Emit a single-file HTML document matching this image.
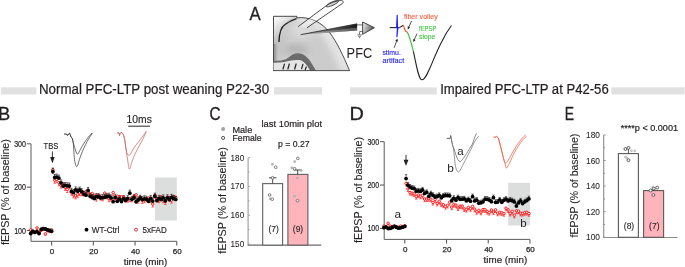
<!DOCTYPE html>
<html><head><meta charset="utf-8"><style>
html,body{margin:0;padding:0;background:#fff;overflow:hidden;}
svg{display:block;will-change:transform;}
svg text{font-family:"Liberation Sans", sans-serif;}
</style></head><body>
<svg width="685" height="267" viewBox="0 0 685 267">
<rect width="685" height="267" fill="#fff"/>
<text x="249.60" y="19.80" font-size="18.3" fill="#231f20" text-anchor="start" stroke="#231f20" stroke-width="0.3" textLength="11.2" lengthAdjust="spacingAndGlyphs" >A</text>
<defs>
<radialGradient id="gs" cx="0.62" cy="0.3" r="0.8">
 <stop offset="0" stop-color="#e4e4e4"/><stop offset="0.5" stop-color="#d2d2d2"/><stop offset="1" stop-color="#b8b8b8"/>
</radialGradient>
<linearGradient id="gl" x1="0" y1="0" x2="1" y2="0">
 <stop offset="0" stop-color="#8a8a8a"/><stop offset="0.18" stop-color="#bdbdbd" stop-opacity="0.4"/><stop offset="0.3" stop-color="#c4c4c4" stop-opacity="0"/>
</linearGradient>
<linearGradient id="gw" x1="0" y1="0" x2="1" y2="0.25">
 <stop offset="0" stop-color="#b8b8b8"/><stop offset="0.55" stop-color="#6e6e6e"/><stop offset="0.85" stop-color="#333"/><stop offset="1" stop-color="#151515"/>
</linearGradient>
<linearGradient id="gt" x1="0" y1="0" x2="1" y2="0.3">
 <stop offset="0" stop-color="#f4f4f4"/><stop offset="1" stop-color="#555555"/>
</linearGradient>
<linearGradient id="gtl" x1="0" y1="0" x2="0.6" y2="1">
 <stop offset="0" stop-color="#ffffff"/><stop offset="1" stop-color="#a8a8a8"/>
</linearGradient>
<linearGradient id="go" x1="0" y1="0" x2="1" y2="0">
 <stop offset="0" stop-color="#888"/><stop offset="1" stop-color="#222"/>
</linearGradient>
</defs>
<clipPath id="cs"><path d="M273.5,16.2 L297,16.2 L296.7,17.9 C309,16.2 322,22 330,33 C337,42.5 343,55 349.5,70.5 L273.5,70.5 Z"/></clipPath>
<filter id="bl3" x="-20%" y="-20%" width="140%" height="140%"><feGaussianBlur stdDeviation="3"/></filter>
<filter id="bl1" x="-20%" y="-20%" width="140%" height="140%"><feGaussianBlur stdDeviation="1.2"/></filter>
<g clip-path="url(#cs)">
<path d="M273.5,16.2 L297,16.2 L296.7,17.9 C309,16.2 322,22 330,33 C337,42.5 343,55 349.5,70.5 L273.5,70.5 Z" fill="#cccccc"/>
<ellipse cx="295" cy="49.5" rx="14" ry="5" fill="#b6b6b6" filter="url(#bl3)"/>
<ellipse cx="281" cy="46" rx="6" ry="12" fill="#c4c4c4" filter="url(#bl3)"/>
<path d="M296.7,17.9 C309,16.2 322,22 330,33 C337,42.5 343,55 349.5,70.5" fill="none" stroke="#e4e4e4" stroke-width="16" filter="url(#bl3)"/>
<ellipse cx="303" cy="30" rx="12" ry="8" fill="#dadada" filter="url(#bl3)"/>
<rect x="272" y="16" width="4.2" height="56" fill="#969696" filter="url(#bl1)"/>
<path d="M273.5,16.2 L297,16.2 C289,18.5 282.5,23 279.8,31 L278.8,42 L275.5,44 L273.5,44 Z" fill="url(#gtl)"/>
</g>
<path d="M279,42 C279.2,34 281,27 285,24.5 C288.5,22 292.5,19.8 296.5,18.6" fill="none" stroke="#1e1e1e" stroke-width="1.3"/>
<path d="M296.7,17.9 C309,16.2 322,22 330,33 C337,42.5 343,55 349.5,70.5" fill="none" stroke="#3a3a3a" stroke-width="0.9"/>
<path d="M273.5,70.5 L273.5,16.3 L297,16.3 L296.8,18.2" fill="none" stroke="#4a4a4a" stroke-width="1"/>
<path d="M273.5,62.5 C282,61.5 289,59 295,57.5 C301,57.5 306,63 310,70.5 L273.5,70.5 Z" fill="#e4e4e4"/>
<path d="M273.5,61.1 C274.53,61.02 277.68,60.92 279.7,60.6 C281.72,60.28 283.97,59.85 285.6,59.2 C287.23,58.55 288.20,57.52 289.5,56.7 C290.80,55.88 292.10,54.87 293.4,54.3 C294.70,53.73 296.00,53.38 297.3,53.3 C298.60,53.22 299.90,53.40 301.2,53.8 C302.50,54.20 303.80,54.73 305.1,55.7 C306.40,56.67 307.70,57.97 309,59.6 C310.30,61.23 311.77,63.68 312.9,65.5 C314.03,67.32 315.32,69.67 315.8,70.5 L310,70.5 C309.50,69.67 307.98,66.82 307,65.5 C306.02,64.18 305.07,63.42 304.1,62.6 C303.13,61.78 302.33,61.02 301.2,60.6 C300.07,60.18 298.93,60.10 297.3,60.1 C295.67,60.10 293.35,60.32 291.4,60.6 C289.45,60.88 287.55,61.47 285.6,61.8 C283.65,62.13 281.72,62.42 279.7,62.6 C277.68,62.78 274.53,62.85 273.5,62.9 Z" fill="#6b6b6b"/>
<line x1="283.0" y1="69.0" x2="284.4" y2="64.2" stroke="#262626" stroke-width="1.25" stroke-linecap="round"/>
<line x1="287.9" y1="69.0" x2="289.3" y2="64.0" stroke="#262626" stroke-width="1.25" stroke-linecap="round"/>
<line x1="294.7" y1="69.0" x2="296.1" y2="64.0" stroke="#262626" stroke-width="1.25" stroke-linecap="round"/>
<line x1="301.6" y1="68.6" x2="302.9" y2="64.4" stroke="#262626" stroke-width="1.25" stroke-linecap="round"/>
<line x1="305.3" y1="69.6" x2="306.2" y2="67.0" stroke="#262626" stroke-width="1.25" stroke-linecap="round"/>
<line x1="273" y1="70.6" x2="349.8" y2="70.6" stroke="#3a3a3a" stroke-width="0.9"/>
<path d="M298.2,26.6 L326.3,5.7 C330.5,2.8 336.5,0.5 340.8,0.5 C343.6,0.6 343.8,2.4 342.6,3.3 L306.9,27.8" fill="#ffffff" fill-opacity="0.35" stroke="#2a2a2a" stroke-width="0.85"/>
<ellipse cx="332.3" cy="3.7" rx="6.8" ry="1.7" transform="rotate(-24 332.3 3.7)" fill="url(#go)" fill-opacity="0.3" stroke="#333" stroke-width="0.75"/>
<path d="M300.6,34.7 L357.1,23.8 L357.1,30.4 Z" fill="url(#gw)"/>
<path d="M305,34.1 L357.1,27.6 L357.1,30.4 L300.6,34.7 Z" fill="#ffffff" fill-opacity="0.3"/>
<line x1="300.6" y1="34.7" x2="357.1" y2="23.8" stroke="#111" stroke-width="0.7"/>
<line x1="356.8" y1="24.9" x2="362.6" y2="24.9" stroke="#444" stroke-width="0.8"/>
<path d="M362.6,22 L374.4,27.7 L362.6,34.3 Z" fill="url(#gt)" stroke="#333" stroke-width="0.9"/>
<path d="M362.6,31.5 H359.6 V34.7 M357.4,34.9 H361.8 M358.2,36.3 H361 M359,37.6 H360.2" fill="none" stroke="#333" stroke-width="0.65"/>
<text x="346.60" y="57.80" font-size="15.4" fill="#231f20" text-anchor="start" textLength="25.6" lengthAdjust="spacingAndGlyphs" >PFC</text>
<path d="M389.7,27.6 L396,27.6" stroke="#222" stroke-width="1.1" fill="none"/>
<path d="M395.6,27.6 L396.6,27.6 L397.2,15.3 L397.5,27.0 L396.9,36.8 L397.9,27.6 L399.6,27.6" stroke="#2020ff" stroke-width="1.15" fill="none" stroke-linejoin="round"/>
<path d="M399.5,27.6 L403.2,25.2" stroke="#222" stroke-width="1.1" fill="none"/>
<path d="M403.1,25.1 L405.5,31 L407.6,32.5" stroke="#f15a3a" stroke-width="1.2" fill="none"/>
<path d="M407.4,32.3 C409.5,36 411.5,44 413.5,51.7" stroke="#3cc03c" stroke-width="1.2" fill="none"/>
<path d="M413.4,51.4 C416,63 418.5,79.8 422,79.8 C427,79.8 433,58 441.6,42 C445,35 448,30 451.5,25.5" stroke="#222" stroke-width="1.1" fill="none"/>
<line x1="411.6" y1="20.9" x2="408.74" y2="27.30" stroke="#222" stroke-width="0.75"/>
<path d="M407.8,29.4 L407.71,26.29 L410.18,27.39 Z" fill="#222"/>
<line x1="417.0" y1="33.6" x2="414.23" y2="39.90" stroke="#222" stroke-width="0.75"/>
<path d="M413.3,42.0 L413.19,38.89 L415.66,39.98 Z" fill="#222"/>
<line x1="394.2" y1="47.8" x2="396.72" y2="40.76" stroke="#222" stroke-width="0.75"/>
<path d="M397.5,38.6 L397.83,41.69 L395.28,40.78 Z" fill="#222"/>
<text x="403.90" y="19.00" font-size="7.6" fill="#f4603c" text-anchor="start" stroke="#f4603c" stroke-width="0.12" textLength="33.8" lengthAdjust="spacingAndGlyphs" >fiber volley</text>
<text x="419.10" y="30.90" font-size="7.6" fill="#3ec83e" text-anchor="start" stroke="#3ec83e" stroke-width="0.12" textLength="17.2" lengthAdjust="spacingAndGlyphs" >fEPSP</text>
<text x="419.10" y="39.30" font-size="7.6" fill="#3ec83e" text-anchor="start" stroke="#3ec83e" stroke-width="0.12" textLength="16.2" lengthAdjust="spacingAndGlyphs" >slope</text>
<text x="382.40" y="55.30" font-size="7.7" fill="#2b2bf5" text-anchor="start" stroke="#2b2bf5" stroke-width="0.15" textLength="18.5" lengthAdjust="spacingAndGlyphs" >stimu.</text>
<text x="382.40" y="62.70" font-size="7.7" fill="#2b2bf5" text-anchor="start" stroke="#2b2bf5" stroke-width="0.15" textLength="21.9" lengthAdjust="spacingAndGlyphs" >artifact</text>
<rect x="0.9" y="87.3" width="35.5" height="7.2" fill="#e1e1e1"/>
<text x="38.90" y="94.40" font-size="14" fill="#231f20" text-anchor="start" stroke="#231f20" stroke-width="0.22" textLength="230.2" lengthAdjust="spacingAndGlyphs" >Normal PFC-LTP post weaning P22-30</text>
<rect x="274" y="87.2" width="48" height="7.3" fill="#e1e1e1"/>
<rect x="350.1" y="87.3" width="86.7" height="7.2" fill="#e1e1e1"/>
<text x="440.20" y="94.40" font-size="14" fill="#231f20" text-anchor="start" stroke="#231f20" stroke-width="0.22" textLength="168.5" lengthAdjust="spacingAndGlyphs" >Impaired PFC-LTP at P42-56</text>
<rect x="611.4" y="87.3" width="73.2" height="7.2" fill="#e1e1e1"/>
<text x="-2.00" y="119.80" font-size="18.3" fill="#231f20" text-anchor="start" stroke="#231f20" stroke-width="0.3" textLength="12.2" lengthAdjust="spacingAndGlyphs" >B</text>
<rect x="155" y="177.5" width="21.80000000000001" height="43.0" fill="#dcdddd"/>
<path d="M26.80,143.80 L31.00,143.80 L31.00,241.30 L176.76,241.30" fill="none" stroke="#5a5b5d" stroke-width="1.0"/>
<line x1="26.80" y1="230.50" x2="31.00" y2="230.50" stroke="#5a5b5d" stroke-width="1.1"/>
<line x1="26.80" y1="187.15" x2="31.00" y2="187.15" stroke="#5a5b5d" stroke-width="1.1"/>
<text x="26.00" y="146.80" font-size="8.4" fill="#231f20" text-anchor="end" stroke="#231f20" stroke-width="0.2" textLength="11.8" lengthAdjust="spacingAndGlyphs" >300</text>
<text x="26.00" y="190.15" font-size="8.4" fill="#231f20" text-anchor="end" stroke="#231f20" stroke-width="0.2" textLength="11.8" lengthAdjust="spacingAndGlyphs" >200</text>
<text x="26.00" y="233.50" font-size="8.4" fill="#231f20" text-anchor="end" stroke="#231f20" stroke-width="0.2" textLength="11.8" lengthAdjust="spacingAndGlyphs" >100</text>
<line x1="51.60" y1="241.30" x2="51.60" y2="245.50" stroke="#5a5b5d" stroke-width="1.1"/>
<text x="52.00" y="253.60" font-size="8.0" fill="#231f20" text-anchor="middle" stroke="#231f20" stroke-width="0.25" >0</text>
<line x1="93.32" y1="241.30" x2="93.32" y2="245.50" stroke="#5a5b5d" stroke-width="1.1"/>
<text x="93.72" y="253.60" font-size="8.0" fill="#231f20" text-anchor="middle" stroke="#231f20" stroke-width="0.25" >20</text>
<line x1="135.04" y1="241.30" x2="135.04" y2="245.50" stroke="#5a5b5d" stroke-width="1.1"/>
<text x="135.44" y="253.60" font-size="8.0" fill="#231f20" text-anchor="middle" stroke="#231f20" stroke-width="0.25" >40</text>
<line x1="176.76" y1="241.30" x2="176.76" y2="245.50" stroke="#5a5b5d" stroke-width="1.1"/>
<text x="177.16" y="253.60" font-size="8.0" fill="#231f20" text-anchor="middle" stroke="#231f20" stroke-width="0.25" >60</text>
<text x="123.70" y="264.60" font-size="9.9" fill="#231f20" text-anchor="start" stroke="#231f20" stroke-width="0.2" textLength="43.6" lengthAdjust="spacingAndGlyphs" >time (min)</text>
<text transform="translate(8.80,245.10) rotate(-90)" x="0" y="0" font-size="10.8" fill="#231f20" stroke="#231f20" stroke-width="0.08" textLength="106" lengthAdjust="spacingAndGlyphs">fEPSP (% of baseline)</text>
<path d="M30.74,229.81 L30.74,231.11 M29.54,231.11 L31.94,231.11" stroke="#ff0000" stroke-width="0.6"/>
<path d="M32.83,231.80 L32.83,233.10 M31.63,233.10 L34.03,233.10" stroke="#ff0000" stroke-width="0.6"/>
<path d="M34.91,232.23 L34.91,233.53 M33.71,233.53 L36.11,233.53" stroke="#ff0000" stroke-width="0.6"/>
<path d="M37.00,227.90 L37.00,229.20 M35.80,229.20 L38.20,229.20" stroke="#ff0000" stroke-width="0.6"/>
<path d="M39.08,232.67 L39.08,233.97 M37.88,233.97 L40.28,233.97" stroke="#ff0000" stroke-width="0.6"/>
<path d="M41.17,230.07 L41.17,231.37 M39.97,231.37 L42.37,231.37" stroke="#ff0000" stroke-width="0.6"/>
<path d="M43.26,229.20 L43.26,230.50 M42.06,230.50 L44.46,230.50" stroke="#ff0000" stroke-width="0.6"/>
<path d="M45.34,233.88 L45.34,235.18 M44.14,235.18 L46.54,235.18" stroke="#ff0000" stroke-width="0.6"/>
<path d="M47.43,230.50 L47.43,231.80 M46.23,231.80 L48.63,231.80" stroke="#ff0000" stroke-width="0.6"/>
<path d="M49.51,230.93 L49.51,232.23 M48.31,232.23 L50.71,232.23" stroke="#ff0000" stroke-width="0.6"/>
<path d="M51.60,229.81 L51.60,231.11 M50.40,231.11 L52.80,231.11" stroke="#ff0000" stroke-width="0.6"/>
<path d="M52.85,169.81 L52.85,173.28 M51.65,173.28 L54.05,173.28" stroke="#ff0000" stroke-width="0.6"/>
<path d="M54.73,180.26 L54.73,183.29 M53.53,183.29 L55.93,183.29" stroke="#ff0000" stroke-width="0.6"/>
<path d="M56.81,179.28 L56.81,182.31 M55.61,182.31 L58.02,182.31" stroke="#ff0000" stroke-width="0.6"/>
<path d="M58.90,182.71 L58.90,185.75 M57.70,185.75 L60.10,185.75" stroke="#ff0000" stroke-width="0.6"/>
<path d="M60.99,185.19 L60.99,188.22 M59.79,188.22 L62.19,188.22" stroke="#ff0000" stroke-width="0.6"/>
<path d="M63.07,183.83 L63.07,186.87 M61.87,186.87 L64.27,186.87" stroke="#ff0000" stroke-width="0.6"/>
<path d="M65.16,187.34 L65.16,190.38 M63.96,190.38 L66.36,190.38" stroke="#ff0000" stroke-width="0.6"/>
<path d="M67.25,189.45 L67.25,192.48 M66.05,192.48 L68.45,192.48" stroke="#ff0000" stroke-width="0.6"/>
<path d="M69.33,186.14 L69.33,189.17 M68.13,189.17 L70.53,189.17" stroke="#ff0000" stroke-width="0.6"/>
<path d="M71.42,192.16 L71.42,195.20 M70.22,195.20 L72.62,195.20" stroke="#ff0000" stroke-width="0.6"/>
<path d="M73.50,194.74 L73.50,197.78 M72.30,197.78 L74.70,197.78" stroke="#ff0000" stroke-width="0.6"/>
<path d="M75.59,195.79 L75.59,198.82 M74.39,198.82 L76.79,198.82" stroke="#ff0000" stroke-width="0.6"/>
<path d="M77.67,194.65 L77.67,197.68 M76.47,197.68 L78.88,197.68" stroke="#ff0000" stroke-width="0.6"/>
<path d="M79.76,192.69 L79.76,195.73 M78.56,195.73 L80.96,195.73" stroke="#ff0000" stroke-width="0.6"/>
<path d="M81.85,192.81 L81.85,195.85 M80.65,195.85 L83.05,195.85" stroke="#ff0000" stroke-width="0.6"/>
<path d="M83.93,192.66 L83.93,195.69 M82.73,195.69 L85.13,195.69" stroke="#ff0000" stroke-width="0.6"/>
<path d="M86.02,191.52 L86.02,194.56 M84.82,194.56 L87.22,194.56" stroke="#ff0000" stroke-width="0.6"/>
<path d="M88.10,192.16 L88.10,195.20 M86.90,195.20 L89.30,195.20" stroke="#ff0000" stroke-width="0.6"/>
<path d="M90.19,194.77 L90.19,197.80 M88.99,197.80 L91.39,197.80" stroke="#ff0000" stroke-width="0.6"/>
<path d="M92.28,193.54 L92.28,196.58 M91.08,196.58 L93.48,196.58" stroke="#ff0000" stroke-width="0.6"/>
<path d="M94.36,195.24 L94.36,198.27 M93.16,198.27 L95.56,198.27" stroke="#ff0000" stroke-width="0.6"/>
<path d="M96.45,198.09 L96.45,201.12 M95.25,201.12 L97.65,201.12" stroke="#ff0000" stroke-width="0.6"/>
<path d="M98.53,195.24 L98.53,198.27 M97.33,198.27 L99.73,198.27" stroke="#ff0000" stroke-width="0.6"/>
<path d="M100.62,197.06 L100.62,200.09 M99.42,200.09 L101.82,200.09" stroke="#ff0000" stroke-width="0.6"/>
<path d="M102.71,197.78 L102.71,200.81 M101.51,200.81 L103.91,200.81" stroke="#ff0000" stroke-width="0.6"/>
<path d="M104.79,193.09 L104.79,196.12 M103.59,196.12 L105.99,196.12" stroke="#ff0000" stroke-width="0.6"/>
<path d="M106.88,195.87 L106.88,198.90 M105.68,198.90 L108.08,198.90" stroke="#ff0000" stroke-width="0.6"/>
<path d="M108.97,198.70 L108.97,201.74 M107.77,201.74 L110.17,201.74" stroke="#ff0000" stroke-width="0.6"/>
<path d="M111.05,197.89 L111.05,200.93 M109.85,200.93 L112.25,200.93" stroke="#ff0000" stroke-width="0.6"/>
<path d="M113.14,192.68 L113.14,195.71 M111.94,195.71 L114.34,195.71" stroke="#ff0000" stroke-width="0.6"/>
<path d="M115.22,198.40 L115.22,201.43 M114.02,201.43 L116.42,201.43" stroke="#ff0000" stroke-width="0.6"/>
<path d="M117.31,196.30 L117.31,199.34 M116.11,199.34 L118.51,199.34" stroke="#ff0000" stroke-width="0.6"/>
<path d="M119.40,196.60 L119.40,199.64 M118.20,199.64 L120.60,199.64" stroke="#ff0000" stroke-width="0.6"/>
<path d="M121.48,196.88 L121.48,199.92 M120.28,199.92 L122.68,199.92" stroke="#ff0000" stroke-width="0.6"/>
<path d="M123.57,196.75 L123.57,199.79 M122.37,199.79 L124.77,199.79" stroke="#ff0000" stroke-width="0.6"/>
<path d="M125.65,199.13 L125.65,202.16 M124.45,202.16 L126.85,202.16" stroke="#ff0000" stroke-width="0.6"/>
<path d="M127.74,199.12 L127.74,202.15 M126.54,202.15 L128.94,202.15" stroke="#ff0000" stroke-width="0.6"/>
<path d="M129.82,198.48 L129.82,201.51 M128.62,201.51 L131.02,201.51" stroke="#ff0000" stroke-width="0.6"/>
<path d="M131.91,198.93 L131.91,201.97 M130.71,201.97 L133.11,201.97" stroke="#ff0000" stroke-width="0.6"/>
<path d="M134.00,196.39 L134.00,199.43 M132.80,199.43 L135.20,199.43" stroke="#ff0000" stroke-width="0.6"/>
<path d="M136.08,194.80 L136.08,197.83 M134.88,197.83 L137.28,197.83" stroke="#ff0000" stroke-width="0.6"/>
<path d="M138.17,200.15 L138.17,203.18 M136.97,203.18 L139.37,203.18" stroke="#ff0000" stroke-width="0.6"/>
<path d="M140.25,197.01 L140.25,200.04 M139.06,200.04 L141.45,200.04" stroke="#ff0000" stroke-width="0.6"/>
<path d="M142.34,200.37 L142.34,203.41 M141.14,203.41 L143.54,203.41" stroke="#ff0000" stroke-width="0.6"/>
<path d="M144.43,199.75 L144.43,202.79 M143.23,202.79 L145.63,202.79" stroke="#ff0000" stroke-width="0.6"/>
<path d="M146.51,198.76 L146.51,201.80 M145.31,201.80 L147.71,201.80" stroke="#ff0000" stroke-width="0.6"/>
<path d="M148.60,198.01 L148.60,201.04 M147.40,201.04 L149.80,201.04" stroke="#ff0000" stroke-width="0.6"/>
<path d="M150.69,199.22 L150.69,202.25 M149.49,202.25 L151.88,202.25" stroke="#ff0000" stroke-width="0.6"/>
<path d="M152.77,203.99 L152.77,207.03 M151.57,207.03 L153.97,207.03" stroke="#ff0000" stroke-width="0.6"/>
<path d="M154.86,195.22 L154.86,198.26 M153.66,198.26 L156.06,198.26" stroke="#ff0000" stroke-width="0.6"/>
<path d="M156.94,198.86 L156.94,201.90 M155.74,201.90 L158.14,201.90" stroke="#ff0000" stroke-width="0.6"/>
<path d="M159.03,199.67 L159.03,202.70 M157.83,202.70 L160.23,202.70" stroke="#ff0000" stroke-width="0.6"/>
<path d="M161.11,196.78 L161.11,199.82 M159.91,199.82 L162.31,199.82" stroke="#ff0000" stroke-width="0.6"/>
<path d="M163.20,199.59 L163.20,202.63 M162.00,202.63 L164.40,202.63" stroke="#ff0000" stroke-width="0.6"/>
<path d="M165.29,201.42 L165.29,204.45 M164.09,204.45 L166.49,204.45" stroke="#ff0000" stroke-width="0.6"/>
<path d="M167.37,197.21 L167.37,200.24 M166.17,200.24 L168.57,200.24" stroke="#ff0000" stroke-width="0.6"/>
<path d="M169.46,197.37 L169.46,200.40 M168.26,200.40 L170.66,200.40" stroke="#ff0000" stroke-width="0.6"/>
<path d="M171.54,200.10 L171.54,203.14 M170.34,203.14 L172.74,203.14" stroke="#ff0000" stroke-width="0.6"/>
<path d="M173.63,196.45 L173.63,199.48 M172.43,199.48 L174.83,199.48" stroke="#ff0000" stroke-width="0.6"/>
<path d="M175.72,197.47 L175.72,200.51 M174.52,200.51 L176.92,200.51" stroke="#ff0000" stroke-width="0.6"/>
<circle cx="30.74" cy="229.81" r="1.25" fill="#fff" stroke="#ff0000" stroke-width="0.9"/>
<circle cx="32.83" cy="231.80" r="1.25" fill="#fff" stroke="#ff0000" stroke-width="0.9"/>
<circle cx="34.91" cy="232.23" r="1.25" fill="#fff" stroke="#ff0000" stroke-width="0.9"/>
<circle cx="37.00" cy="227.90" r="1.25" fill="#fff" stroke="#ff0000" stroke-width="0.9"/>
<circle cx="39.08" cy="232.67" r="1.25" fill="#fff" stroke="#ff0000" stroke-width="0.9"/>
<circle cx="41.17" cy="230.07" r="1.25" fill="#fff" stroke="#ff0000" stroke-width="0.9"/>
<circle cx="43.26" cy="229.20" r="1.25" fill="#fff" stroke="#ff0000" stroke-width="0.9"/>
<circle cx="45.34" cy="233.88" r="1.25" fill="#fff" stroke="#ff0000" stroke-width="0.9"/>
<circle cx="47.43" cy="230.50" r="1.25" fill="#fff" stroke="#ff0000" stroke-width="0.9"/>
<circle cx="49.51" cy="230.93" r="1.25" fill="#fff" stroke="#ff0000" stroke-width="0.9"/>
<circle cx="51.60" cy="229.81" r="1.25" fill="#fff" stroke="#ff0000" stroke-width="0.9"/>
<circle cx="52.85" cy="169.81" r="1.25" fill="#fff" stroke="#ff0000" stroke-width="0.9"/>
<circle cx="54.73" cy="180.26" r="1.25" fill="#fff" stroke="#ff0000" stroke-width="0.9"/>
<circle cx="56.81" cy="179.28" r="1.25" fill="#fff" stroke="#ff0000" stroke-width="0.9"/>
<circle cx="58.90" cy="182.71" r="1.25" fill="#fff" stroke="#ff0000" stroke-width="0.9"/>
<circle cx="60.99" cy="185.19" r="1.25" fill="#fff" stroke="#ff0000" stroke-width="0.9"/>
<circle cx="63.07" cy="183.83" r="1.25" fill="#fff" stroke="#ff0000" stroke-width="0.9"/>
<circle cx="65.16" cy="187.34" r="1.25" fill="#fff" stroke="#ff0000" stroke-width="0.9"/>
<circle cx="67.25" cy="189.45" r="1.25" fill="#fff" stroke="#ff0000" stroke-width="0.9"/>
<circle cx="69.33" cy="186.14" r="1.25" fill="#fff" stroke="#ff0000" stroke-width="0.9"/>
<circle cx="71.42" cy="192.16" r="1.25" fill="#fff" stroke="#ff0000" stroke-width="0.9"/>
<circle cx="73.50" cy="194.74" r="1.25" fill="#fff" stroke="#ff0000" stroke-width="0.9"/>
<circle cx="75.59" cy="195.79" r="1.25" fill="#fff" stroke="#ff0000" stroke-width="0.9"/>
<circle cx="77.67" cy="194.65" r="1.25" fill="#fff" stroke="#ff0000" stroke-width="0.9"/>
<circle cx="79.76" cy="192.69" r="1.25" fill="#fff" stroke="#ff0000" stroke-width="0.9"/>
<circle cx="81.85" cy="192.81" r="1.25" fill="#fff" stroke="#ff0000" stroke-width="0.9"/>
<circle cx="83.93" cy="192.66" r="1.25" fill="#fff" stroke="#ff0000" stroke-width="0.9"/>
<circle cx="86.02" cy="191.52" r="1.25" fill="#fff" stroke="#ff0000" stroke-width="0.9"/>
<circle cx="88.10" cy="192.16" r="1.25" fill="#fff" stroke="#ff0000" stroke-width="0.9"/>
<circle cx="90.19" cy="194.77" r="1.25" fill="#fff" stroke="#ff0000" stroke-width="0.9"/>
<circle cx="92.28" cy="193.54" r="1.25" fill="#fff" stroke="#ff0000" stroke-width="0.9"/>
<circle cx="94.36" cy="195.24" r="1.25" fill="#fff" stroke="#ff0000" stroke-width="0.9"/>
<circle cx="96.45" cy="198.09" r="1.25" fill="#fff" stroke="#ff0000" stroke-width="0.9"/>
<circle cx="98.53" cy="195.24" r="1.25" fill="#fff" stroke="#ff0000" stroke-width="0.9"/>
<circle cx="100.62" cy="197.06" r="1.25" fill="#fff" stroke="#ff0000" stroke-width="0.9"/>
<circle cx="102.71" cy="197.78" r="1.25" fill="#fff" stroke="#ff0000" stroke-width="0.9"/>
<circle cx="104.79" cy="193.09" r="1.25" fill="#fff" stroke="#ff0000" stroke-width="0.9"/>
<circle cx="106.88" cy="195.87" r="1.25" fill="#fff" stroke="#ff0000" stroke-width="0.9"/>
<circle cx="108.97" cy="198.70" r="1.25" fill="#fff" stroke="#ff0000" stroke-width="0.9"/>
<circle cx="111.05" cy="197.89" r="1.25" fill="#fff" stroke="#ff0000" stroke-width="0.9"/>
<circle cx="113.14" cy="192.68" r="1.25" fill="#fff" stroke="#ff0000" stroke-width="0.9"/>
<circle cx="115.22" cy="198.40" r="1.25" fill="#fff" stroke="#ff0000" stroke-width="0.9"/>
<circle cx="117.31" cy="196.30" r="1.25" fill="#fff" stroke="#ff0000" stroke-width="0.9"/>
<circle cx="119.40" cy="196.60" r="1.25" fill="#fff" stroke="#ff0000" stroke-width="0.9"/>
<circle cx="121.48" cy="196.88" r="1.25" fill="#fff" stroke="#ff0000" stroke-width="0.9"/>
<circle cx="123.57" cy="196.75" r="1.25" fill="#fff" stroke="#ff0000" stroke-width="0.9"/>
<circle cx="125.65" cy="199.13" r="1.25" fill="#fff" stroke="#ff0000" stroke-width="0.9"/>
<circle cx="127.74" cy="199.12" r="1.25" fill="#fff" stroke="#ff0000" stroke-width="0.9"/>
<circle cx="129.82" cy="198.48" r="1.25" fill="#fff" stroke="#ff0000" stroke-width="0.9"/>
<circle cx="131.91" cy="198.93" r="1.25" fill="#fff" stroke="#ff0000" stroke-width="0.9"/>
<circle cx="134.00" cy="196.39" r="1.25" fill="#fff" stroke="#ff0000" stroke-width="0.9"/>
<circle cx="136.08" cy="194.80" r="1.25" fill="#fff" stroke="#ff0000" stroke-width="0.9"/>
<circle cx="138.17" cy="200.15" r="1.25" fill="#fff" stroke="#ff0000" stroke-width="0.9"/>
<circle cx="140.25" cy="197.01" r="1.25" fill="#fff" stroke="#ff0000" stroke-width="0.9"/>
<circle cx="142.34" cy="200.37" r="1.25" fill="#fff" stroke="#ff0000" stroke-width="0.9"/>
<circle cx="144.43" cy="199.75" r="1.25" fill="#fff" stroke="#ff0000" stroke-width="0.9"/>
<circle cx="146.51" cy="198.76" r="1.25" fill="#fff" stroke="#ff0000" stroke-width="0.9"/>
<circle cx="148.60" cy="198.01" r="1.25" fill="#fff" stroke="#ff0000" stroke-width="0.9"/>
<circle cx="150.69" cy="199.22" r="1.25" fill="#fff" stroke="#ff0000" stroke-width="0.9"/>
<circle cx="152.77" cy="203.99" r="1.25" fill="#fff" stroke="#ff0000" stroke-width="0.9"/>
<circle cx="154.86" cy="195.22" r="1.25" fill="#fff" stroke="#ff0000" stroke-width="0.9"/>
<circle cx="156.94" cy="198.86" r="1.25" fill="#fff" stroke="#ff0000" stroke-width="0.9"/>
<circle cx="159.03" cy="199.67" r="1.25" fill="#fff" stroke="#ff0000" stroke-width="0.9"/>
<circle cx="161.11" cy="196.78" r="1.25" fill="#fff" stroke="#ff0000" stroke-width="0.9"/>
<circle cx="163.20" cy="199.59" r="1.25" fill="#fff" stroke="#ff0000" stroke-width="0.9"/>
<circle cx="165.29" cy="201.42" r="1.25" fill="#fff" stroke="#ff0000" stroke-width="0.9"/>
<circle cx="167.37" cy="197.21" r="1.25" fill="#fff" stroke="#ff0000" stroke-width="0.9"/>
<circle cx="169.46" cy="197.37" r="1.25" fill="#fff" stroke="#ff0000" stroke-width="0.9"/>
<circle cx="171.54" cy="200.10" r="1.25" fill="#fff" stroke="#ff0000" stroke-width="0.9"/>
<circle cx="173.63" cy="196.45" r="1.25" fill="#fff" stroke="#ff0000" stroke-width="0.9"/>
<circle cx="175.72" cy="197.47" r="1.25" fill="#fff" stroke="#ff0000" stroke-width="0.9"/>
<path d="M30.74,233.49 L30.74,232.19 M29.54,232.19 L31.94,232.19" stroke="#111" stroke-width="0.6"/>
<path d="M32.83,231.28 L32.83,229.98 M31.63,229.98 L34.03,229.98" stroke="#111" stroke-width="0.6"/>
<path d="M34.91,232.41 L34.91,231.11 M33.71,231.11 L36.11,231.11" stroke="#111" stroke-width="0.6"/>
<path d="M37.00,231.58 L37.00,230.28 M35.80,230.28 L38.20,230.28" stroke="#111" stroke-width="0.6"/>
<path d="M39.08,233.49 L39.08,232.19 M37.88,232.19 L40.28,232.19" stroke="#111" stroke-width="0.6"/>
<path d="M41.17,229.42 L41.17,228.12 M39.97,228.12 L42.37,228.12" stroke="#111" stroke-width="0.6"/>
<path d="M43.26,228.59 L43.26,227.29 M42.06,227.29 L44.46,227.29" stroke="#111" stroke-width="0.6"/>
<path d="M45.34,228.98 L45.34,227.68 M44.14,227.68 L46.54,227.68" stroke="#111" stroke-width="0.6"/>
<path d="M47.43,229.81 L47.43,228.51 M46.23,228.51 L48.63,228.51" stroke="#111" stroke-width="0.6"/>
<path d="M49.51,230.50 L49.51,229.20 M48.31,229.20 L50.71,229.20" stroke="#111" stroke-width="0.6"/>
<path d="M51.60,231.28 L51.60,229.98 M50.40,229.98 L52.80,229.98" stroke="#111" stroke-width="0.6"/>
<path d="M52.85,171.54 L52.85,168.08 M51.65,168.08 L54.05,168.08" stroke="#111" stroke-width="0.6"/>
<path d="M54.73,177.52 L54.73,174.48 M53.53,174.48 L55.93,174.48" stroke="#111" stroke-width="0.6"/>
<path d="M56.81,177.04 L56.81,174.01 M55.61,174.01 L58.02,174.01" stroke="#111" stroke-width="0.6"/>
<path d="M58.90,178.12 L58.90,175.08 M57.70,175.08 L60.10,175.08" stroke="#111" stroke-width="0.6"/>
<path d="M60.99,182.84 L60.99,179.81 M59.79,179.81 L62.19,179.81" stroke="#111" stroke-width="0.6"/>
<path d="M63.07,186.11 L63.07,183.07 M61.87,183.07 L64.27,183.07" stroke="#111" stroke-width="0.6"/>
<path d="M65.16,185.41 L65.16,182.37 M63.96,182.37 L66.36,182.37" stroke="#111" stroke-width="0.6"/>
<path d="M67.25,185.86 L67.25,182.82 M66.05,182.82 L68.45,182.82" stroke="#111" stroke-width="0.6"/>
<path d="M69.33,186.03 L69.33,182.99 M68.13,182.99 L70.53,182.99" stroke="#111" stroke-width="0.6"/>
<path d="M71.42,191.41 L71.42,188.38 M70.22,188.38 L72.62,188.38" stroke="#111" stroke-width="0.6"/>
<path d="M73.50,192.60 L73.50,189.57 M72.30,189.57 L74.70,189.57" stroke="#111" stroke-width="0.6"/>
<path d="M75.59,189.91 L75.59,186.87 M74.39,186.87 L76.79,186.87" stroke="#111" stroke-width="0.6"/>
<path d="M77.67,191.18 L77.67,188.15 M76.47,188.15 L78.88,188.15" stroke="#111" stroke-width="0.6"/>
<path d="M79.76,190.02 L79.76,186.99 M78.56,186.99 L80.96,186.99" stroke="#111" stroke-width="0.6"/>
<path d="M81.85,191.71 L81.85,188.68 M80.65,188.68 L83.05,188.68" stroke="#111" stroke-width="0.6"/>
<path d="M83.93,194.31 L83.93,191.28 M82.73,191.28 L85.13,191.28" stroke="#111" stroke-width="0.6"/>
<path d="M86.02,195.18 L86.02,192.15 M84.82,192.15 L87.22,192.15" stroke="#111" stroke-width="0.6"/>
<path d="M88.10,190.51 L88.10,187.47 M86.90,187.47 L89.30,187.47" stroke="#111" stroke-width="0.6"/>
<path d="M90.19,196.17 L90.19,193.13 M88.99,193.13 L91.39,193.13" stroke="#111" stroke-width="0.6"/>
<path d="M92.28,197.48 L92.28,194.44 M91.08,194.44 L93.48,194.44" stroke="#111" stroke-width="0.6"/>
<path d="M94.36,198.49 L94.36,195.45 M93.16,195.45 L95.56,195.45" stroke="#111" stroke-width="0.6"/>
<path d="M96.45,196.57 L96.45,193.54 M95.25,193.54 L97.65,193.54" stroke="#111" stroke-width="0.6"/>
<path d="M98.53,196.78 L98.53,193.74 M97.33,193.74 L99.73,193.74" stroke="#111" stroke-width="0.6"/>
<path d="M100.62,197.94 L100.62,194.90 M99.42,194.90 L101.82,194.90" stroke="#111" stroke-width="0.6"/>
<path d="M102.71,197.66 L102.71,194.63 M101.51,194.63 L103.91,194.63" stroke="#111" stroke-width="0.6"/>
<path d="M104.79,197.27 L104.79,194.24 M103.59,194.24 L105.99,194.24" stroke="#111" stroke-width="0.6"/>
<path d="M106.88,196.70 L106.88,193.67 M105.68,193.67 L108.08,193.67" stroke="#111" stroke-width="0.6"/>
<path d="M108.97,196.14 L108.97,193.11 M107.77,193.11 L110.17,193.11" stroke="#111" stroke-width="0.6"/>
<path d="M111.05,197.92 L111.05,194.88 M109.85,194.88 L112.25,194.88" stroke="#111" stroke-width="0.6"/>
<path d="M113.14,201.70 L113.14,198.66 M111.94,198.66 L114.34,198.66" stroke="#111" stroke-width="0.6"/>
<path d="M115.22,197.29 L115.22,194.26 M114.02,194.26 L116.42,194.26" stroke="#111" stroke-width="0.6"/>
<path d="M117.31,201.27 L117.31,198.23 M116.11,198.23 L118.51,198.23" stroke="#111" stroke-width="0.6"/>
<path d="M119.40,199.10 L119.40,196.06 M118.20,196.06 L120.60,196.06" stroke="#111" stroke-width="0.6"/>
<path d="M121.48,201.56 L121.48,198.53 M120.28,198.53 L122.68,198.53" stroke="#111" stroke-width="0.6"/>
<path d="M123.57,198.96 L123.57,195.93 M122.37,195.93 L124.77,195.93" stroke="#111" stroke-width="0.6"/>
<path d="M125.65,200.46 L125.65,197.42 M124.45,197.42 L126.85,197.42" stroke="#111" stroke-width="0.6"/>
<path d="M127.74,198.72 L127.74,195.68 M126.54,195.68 L128.94,195.68" stroke="#111" stroke-width="0.6"/>
<path d="M129.82,193.16 L129.82,190.13 M128.62,190.13 L131.02,190.13" stroke="#111" stroke-width="0.6"/>
<path d="M131.91,199.31 L131.91,196.28 M130.71,196.28 L133.11,196.28" stroke="#111" stroke-width="0.6"/>
<path d="M134.00,197.74 L134.00,194.71 M132.80,194.71 L135.20,194.71" stroke="#111" stroke-width="0.6"/>
<path d="M136.08,201.73 L136.08,198.69 M134.88,198.69 L137.28,198.69" stroke="#111" stroke-width="0.6"/>
<path d="M138.17,199.88 L138.17,196.85 M136.97,196.85 L139.37,196.85" stroke="#111" stroke-width="0.6"/>
<path d="M140.25,198.19 L140.25,195.15 M139.06,195.15 L141.45,195.15" stroke="#111" stroke-width="0.6"/>
<path d="M142.34,199.60 L142.34,196.56 M141.14,196.56 L143.54,196.56" stroke="#111" stroke-width="0.6"/>
<path d="M144.43,198.78 L144.43,195.75 M143.23,195.75 L145.63,195.75" stroke="#111" stroke-width="0.6"/>
<path d="M146.51,199.30 L146.51,196.26 M145.31,196.26 L147.71,196.26" stroke="#111" stroke-width="0.6"/>
<path d="M148.60,201.34 L148.60,198.30 M147.40,198.30 L149.80,198.30" stroke="#111" stroke-width="0.6"/>
<path d="M150.69,198.50 L150.69,195.47 M149.49,195.47 L151.88,195.47" stroke="#111" stroke-width="0.6"/>
<path d="M152.77,201.03 L152.77,197.99 M151.57,197.99 L153.97,197.99" stroke="#111" stroke-width="0.6"/>
<path d="M154.86,196.16 L154.86,193.12 M153.66,193.12 L156.06,193.12" stroke="#111" stroke-width="0.6"/>
<path d="M156.94,200.50 L156.94,197.47 M155.74,197.47 L158.14,197.47" stroke="#111" stroke-width="0.6"/>
<path d="M159.03,198.35 L159.03,195.31 M157.83,195.31 L160.23,195.31" stroke="#111" stroke-width="0.6"/>
<path d="M161.11,199.60 L161.11,196.57 M159.91,196.57 L162.31,196.57" stroke="#111" stroke-width="0.6"/>
<path d="M163.20,197.88 L163.20,194.85 M162.00,194.85 L164.40,194.85" stroke="#111" stroke-width="0.6"/>
<path d="M165.29,200.73 L165.29,197.69 M164.09,197.69 L166.49,197.69" stroke="#111" stroke-width="0.6"/>
<path d="M167.37,197.82 L167.37,194.79 M166.17,194.79 L168.57,194.79" stroke="#111" stroke-width="0.6"/>
<path d="M169.46,199.87 L169.46,196.84 M168.26,196.84 L170.66,196.84" stroke="#111" stroke-width="0.6"/>
<path d="M171.54,197.35 L171.54,194.32 M170.34,194.32 L172.74,194.32" stroke="#111" stroke-width="0.6"/>
<path d="M173.63,198.52 L173.63,195.49 M172.43,195.49 L174.83,195.49" stroke="#111" stroke-width="0.6"/>
<path d="M175.72,199.41 L175.72,196.38 M174.52,196.38 L176.92,196.38" stroke="#111" stroke-width="0.6"/>
<circle cx="30.74" cy="233.49" r="1.9" fill="#000"/>
<circle cx="32.83" cy="231.28" r="1.9" fill="#000"/>
<circle cx="34.91" cy="232.41" r="1.9" fill="#000"/>
<circle cx="37.00" cy="231.58" r="1.9" fill="#000"/>
<circle cx="39.08" cy="233.49" r="1.9" fill="#000"/>
<circle cx="41.17" cy="229.42" r="1.9" fill="#000"/>
<circle cx="43.26" cy="228.59" r="1.9" fill="#000"/>
<circle cx="45.34" cy="228.98" r="1.9" fill="#000"/>
<circle cx="47.43" cy="229.81" r="1.9" fill="#000"/>
<circle cx="49.51" cy="230.50" r="1.9" fill="#000"/>
<circle cx="51.60" cy="231.28" r="1.9" fill="#000"/>
<circle cx="52.85" cy="171.54" r="1.9" fill="#000"/>
<circle cx="54.73" cy="177.52" r="1.9" fill="#000"/>
<circle cx="56.81" cy="177.04" r="1.9" fill="#000"/>
<circle cx="58.90" cy="178.12" r="1.9" fill="#000"/>
<circle cx="60.99" cy="182.84" r="1.9" fill="#000"/>
<circle cx="63.07" cy="186.11" r="1.9" fill="#000"/>
<circle cx="65.16" cy="185.41" r="1.9" fill="#000"/>
<circle cx="67.25" cy="185.86" r="1.9" fill="#000"/>
<circle cx="69.33" cy="186.03" r="1.9" fill="#000"/>
<circle cx="71.42" cy="191.41" r="1.9" fill="#000"/>
<circle cx="73.50" cy="192.60" r="1.9" fill="#000"/>
<circle cx="75.59" cy="189.91" r="1.9" fill="#000"/>
<circle cx="77.67" cy="191.18" r="1.9" fill="#000"/>
<circle cx="79.76" cy="190.02" r="1.9" fill="#000"/>
<circle cx="81.85" cy="191.71" r="1.9" fill="#000"/>
<circle cx="83.93" cy="194.31" r="1.9" fill="#000"/>
<circle cx="86.02" cy="195.18" r="1.9" fill="#000"/>
<circle cx="88.10" cy="190.51" r="1.9" fill="#000"/>
<circle cx="90.19" cy="196.17" r="1.9" fill="#000"/>
<circle cx="92.28" cy="197.48" r="1.9" fill="#000"/>
<circle cx="94.36" cy="198.49" r="1.9" fill="#000"/>
<circle cx="96.45" cy="196.57" r="1.9" fill="#000"/>
<circle cx="98.53" cy="196.78" r="1.9" fill="#000"/>
<circle cx="100.62" cy="197.94" r="1.9" fill="#000"/>
<circle cx="102.71" cy="197.66" r="1.9" fill="#000"/>
<circle cx="104.79" cy="197.27" r="1.9" fill="#000"/>
<circle cx="106.88" cy="196.70" r="1.9" fill="#000"/>
<circle cx="108.97" cy="196.14" r="1.9" fill="#000"/>
<circle cx="111.05" cy="197.92" r="1.9" fill="#000"/>
<circle cx="113.14" cy="201.70" r="1.9" fill="#000"/>
<circle cx="115.22" cy="197.29" r="1.9" fill="#000"/>
<circle cx="117.31" cy="201.27" r="1.9" fill="#000"/>
<circle cx="119.40" cy="199.10" r="1.9" fill="#000"/>
<circle cx="121.48" cy="201.56" r="1.9" fill="#000"/>
<circle cx="123.57" cy="198.96" r="1.9" fill="#000"/>
<circle cx="125.65" cy="200.46" r="1.9" fill="#000"/>
<circle cx="127.74" cy="198.72" r="1.9" fill="#000"/>
<circle cx="129.82" cy="193.16" r="1.9" fill="#000"/>
<circle cx="131.91" cy="199.31" r="1.9" fill="#000"/>
<circle cx="134.00" cy="197.74" r="1.9" fill="#000"/>
<circle cx="136.08" cy="201.73" r="1.9" fill="#000"/>
<circle cx="138.17" cy="199.88" r="1.9" fill="#000"/>
<circle cx="140.25" cy="198.19" r="1.9" fill="#000"/>
<circle cx="142.34" cy="199.60" r="1.9" fill="#000"/>
<circle cx="144.43" cy="198.78" r="1.9" fill="#000"/>
<circle cx="146.51" cy="199.30" r="1.9" fill="#000"/>
<circle cx="148.60" cy="201.34" r="1.9" fill="#000"/>
<circle cx="150.69" cy="198.50" r="1.9" fill="#000"/>
<circle cx="152.77" cy="201.03" r="1.9" fill="#000"/>
<circle cx="154.86" cy="196.16" r="1.9" fill="#000"/>
<circle cx="156.94" cy="200.50" r="1.9" fill="#000"/>
<circle cx="159.03" cy="198.35" r="1.9" fill="#000"/>
<circle cx="161.11" cy="199.60" r="1.9" fill="#000"/>
<circle cx="163.20" cy="197.88" r="1.9" fill="#000"/>
<circle cx="165.29" cy="200.73" r="1.9" fill="#000"/>
<circle cx="167.37" cy="197.82" r="1.9" fill="#000"/>
<circle cx="169.46" cy="199.87" r="1.9" fill="#000"/>
<circle cx="171.54" cy="197.35" r="1.9" fill="#000"/>
<circle cx="173.63" cy="198.52" r="1.9" fill="#000"/>
<circle cx="175.72" cy="199.41" r="1.9" fill="#000"/>
<path d="M64.2,134.1 C64.58,134.10 65.93,133.87 66.5,134.1 C67.07,134.33 67.10,135.65 67.6,135.5 C68.10,135.35 68.93,132.95 69.5,133.2 C70.07,133.45 70.57,136.18 71,137 C71.43,137.82 71.73,137.18 72.1,138.1 C72.47,139.02 72.77,140.92 73.2,142.5 C73.63,144.08 74.23,146.05 74.7,147.6 C75.17,149.15 75.58,150.73 76,151.8 C76.42,152.87 76.80,153.72 77.2,154 C77.60,154.28 77.90,154.20 78.4,153.5 C78.90,152.80 79.52,151.12 80.2,149.8 C80.88,148.48 81.65,147.02 82.5,145.6 C83.35,144.18 84.38,142.65 85.3,141.3 C86.22,139.95 87.17,138.55 88,137.5 C88.83,136.45 89.60,135.75 90.3,135 C91.00,134.25 91.88,133.33 92.2,133" fill="none" stroke="#333333" stroke-width="0.7"/>
<path d="M64.2,134.1 C64.58,134.10 65.93,133.87 66.5,134.1 C67.07,134.33 67.10,135.65 67.6,135.5 C68.10,135.35 68.93,132.95 69.5,133.2 C70.07,133.45 70.57,136.18 71,137 C71.43,137.82 71.73,137.18 72.1,138.1 C72.47,139.02 72.92,140.52 73.2,142.5 C73.48,144.48 73.58,147.17 73.8,150 C74.02,152.83 74.17,156.97 74.5,159.5 C74.83,162.03 75.42,164.02 75.8,165.2 C76.18,166.38 76.43,166.77 76.8,166.6 C77.17,166.43 77.45,165.72 78,164.2 C78.55,162.68 79.35,159.67 80.1,157.5 C80.85,155.33 81.58,153.35 82.5,151.2 C83.42,149.05 84.60,146.63 85.6,144.6 C86.60,142.57 87.58,140.60 88.5,139 C89.42,137.40 90.48,136.00 91.1,135 C91.72,134.00 92.02,133.33 92.2,133" fill="none" stroke="#333333" stroke-width="0.7"/>
<path d="M117.2,132.9 C117.50,132.92 118.62,132.57 119,133 C119.38,133.43 119.28,135.47 119.5,135.5 C119.72,135.53 119.95,133.70 120.3,133.2 C120.65,132.70 121.10,132.27 121.6,132.5 C122.10,132.73 122.78,133.40 123.3,134.6 C123.82,135.80 124.27,137.42 124.7,139.7 C125.13,141.98 125.53,146.05 125.9,148.3 C126.27,150.55 126.47,152.05 126.9,153.2 C127.33,154.35 127.95,155.00 128.5,155.2 C129.05,155.40 129.35,155.55 130.2,154.4 C131.05,153.25 132.17,150.45 133.6,148.3 C135.03,146.15 137.07,143.78 138.8,141.5 C140.53,139.22 142.75,136.28 144,134.6 C145.25,132.92 145.92,131.93 146.3,131.4" fill="none" stroke="#c65d55" stroke-width="0.7"/>
<path d="M117.2,132.9 C117.50,132.92 118.62,132.57 119,133 C119.38,133.43 119.28,135.47 119.5,135.5 C119.72,135.53 119.95,133.70 120.3,133.2 C120.65,132.70 121.10,132.27 121.6,132.5 C122.10,132.73 122.78,133.40 123.3,134.6 C123.82,135.80 124.27,137.42 124.7,139.7 C125.13,141.98 125.53,145.75 125.9,148.3 C126.27,150.85 126.58,152.88 126.9,155 C127.22,157.12 127.52,159.08 127.8,161 C128.08,162.92 128.35,165.17 128.6,166.5 C128.85,167.83 129.02,168.83 129.3,169 C129.58,169.17 129.95,168.42 130.3,167.5 C130.65,166.58 130.70,165.55 131.4,163.5 C132.10,161.45 133.27,158.02 134.5,155.2 C135.73,152.38 137.38,149.32 138.8,146.6 C140.22,143.88 141.75,141.43 143,138.9 C144.25,136.37 145.75,132.65 146.3,131.4" fill="none" stroke="#c65d55" stroke-width="0.7"/>
<line x1="128.2" y1="126.2" x2="150" y2="126.2" stroke="#3a3a3a" stroke-width="1.1"/>
<text x="126.60" y="122.80" font-size="10.9" fill="#231f20" text-anchor="start" stroke="#231f20" stroke-width="0.15" textLength="25.2" lengthAdjust="spacingAndGlyphs" >10ms</text>
<text x="43.60" y="149.20" font-size="9.4" fill="#231f20" text-anchor="start" stroke="#231f20" stroke-width="0.15" textLength="14.8" lengthAdjust="spacingAndGlyphs" >TBS</text>
<line x1="52.4" y1="151.4" x2="52.40" y2="157.50" stroke="#231f20" stroke-width="0.9"/>
<path d="M52.4,163.2 L50.10,157.00 L54.70,157.00 Z" fill="#231f20"/>
<circle cx="86.5" cy="229.7" r="1.9" fill="#000"/>
<text x="91.80" y="232.70" font-size="8.6" fill="#231f20" text-anchor="start" stroke="#231f20" stroke-width="0.15" textLength="27.6" lengthAdjust="spacingAndGlyphs" >WT-Ctrl</text>
<circle cx="136" cy="229.7" r="1.5" fill="none" stroke="#ee1c24" stroke-width="0.85"/>
<text x="142.60" y="232.70" font-size="8.6" fill="#231f20" text-anchor="start" stroke="#231f20" stroke-width="0.15" textLength="24.1" lengthAdjust="spacingAndGlyphs" >5xFAD</text>
<text x="349.40" y="119.80" font-size="18.3" fill="#231f20" text-anchor="start" stroke="#231f20" stroke-width="0.3" textLength="14.3" lengthAdjust="spacingAndGlyphs" >D</text>
<rect x="508.2" y="182.8" width="21.80000000000001" height="42.69999999999999" fill="#dcdddd"/>
<path d="M380.00,141.70 L384.20,141.70 L384.20,239.40 L529.96,239.40" fill="none" stroke="#5a5b5d" stroke-width="1.0"/>
<line x1="380.00" y1="228.40" x2="384.20" y2="228.40" stroke="#5a5b5d" stroke-width="1.1"/>
<line x1="380.00" y1="185.05" x2="384.20" y2="185.05" stroke="#5a5b5d" stroke-width="1.1"/>
<text x="379.20" y="144.70" font-size="8.4" fill="#231f20" text-anchor="end" stroke="#231f20" stroke-width="0.2" textLength="11.8" lengthAdjust="spacingAndGlyphs" >300</text>
<text x="379.20" y="188.05" font-size="8.4" fill="#231f20" text-anchor="end" stroke="#231f20" stroke-width="0.2" textLength="11.8" lengthAdjust="spacingAndGlyphs" >200</text>
<text x="379.20" y="231.40" font-size="8.4" fill="#231f20" text-anchor="end" stroke="#231f20" stroke-width="0.2" textLength="11.8" lengthAdjust="spacingAndGlyphs" >100</text>
<line x1="404.80" y1="239.40" x2="404.80" y2="243.60" stroke="#5a5b5d" stroke-width="1.1"/>
<text x="405.20" y="251.70" font-size="8.0" fill="#231f20" text-anchor="middle" stroke="#231f20" stroke-width="0.25" >0</text>
<line x1="446.52" y1="239.40" x2="446.52" y2="243.60" stroke="#5a5b5d" stroke-width="1.1"/>
<text x="446.92" y="251.70" font-size="8.0" fill="#231f20" text-anchor="middle" stroke="#231f20" stroke-width="0.25" >20</text>
<line x1="488.24" y1="239.40" x2="488.24" y2="243.60" stroke="#5a5b5d" stroke-width="1.1"/>
<text x="488.64" y="251.70" font-size="8.0" fill="#231f20" text-anchor="middle" stroke="#231f20" stroke-width="0.25" >40</text>
<line x1="529.96" y1="239.40" x2="529.96" y2="243.60" stroke="#5a5b5d" stroke-width="1.1"/>
<text x="530.36" y="251.70" font-size="8.0" fill="#231f20" text-anchor="middle" stroke="#231f20" stroke-width="0.25" >60</text>
<text x="483.60" y="262.70" font-size="9.9" fill="#231f20" text-anchor="start" stroke="#231f20" stroke-width="0.2" textLength="43.6" lengthAdjust="spacingAndGlyphs" >time (min)</text>
<text transform="translate(362.00,243.00) rotate(-90)" x="0" y="0" font-size="10.8" fill="#231f20" stroke="#231f20" stroke-width="0.08" textLength="106" lengthAdjust="spacingAndGlyphs">fEPSP (% of baseline)</text>
<path d="M383.94,226.16 L383.94,227.46 M382.74,227.46 L385.14,227.46" stroke="#ff0000" stroke-width="0.6"/>
<path d="M386.03,226.80 L386.03,228.10 M384.83,228.10 L387.23,228.10" stroke="#ff0000" stroke-width="0.6"/>
<path d="M388.11,223.24 L388.11,224.54 M386.91,224.54 L389.31,224.54" stroke="#ff0000" stroke-width="0.6"/>
<path d="M390.20,226.15 L390.20,227.45 M389.00,227.45 L391.40,227.45" stroke="#ff0000" stroke-width="0.6"/>
<path d="M392.28,226.47 L392.28,227.77 M391.08,227.77 L393.48,227.77" stroke="#ff0000" stroke-width="0.6"/>
<path d="M394.37,226.22 L394.37,227.52 M393.17,227.52 L395.57,227.52" stroke="#ff0000" stroke-width="0.6"/>
<path d="M396.46,227.18 L396.46,228.48 M395.26,228.48 L397.66,228.48" stroke="#ff0000" stroke-width="0.6"/>
<path d="M398.54,227.38 L398.54,228.68 M397.34,228.68 L399.74,228.68" stroke="#ff0000" stroke-width="0.6"/>
<path d="M400.63,226.13 L400.63,227.43 M399.43,227.43 L401.83,227.43" stroke="#ff0000" stroke-width="0.6"/>
<path d="M402.71,227.11 L402.71,228.41 M401.51,228.41 L403.91,228.41" stroke="#ff0000" stroke-width="0.6"/>
<path d="M404.80,225.86 L404.80,227.16 M403.60,227.16 L406.00,227.16" stroke="#ff0000" stroke-width="0.6"/>
<path d="M406.05,183.32 L406.05,185.92 M404.85,185.92 L407.25,185.92" stroke="#ff0000" stroke-width="0.6"/>
<path d="M407.93,188.88 L407.93,191.48 M406.73,191.48 L409.13,191.48" stroke="#ff0000" stroke-width="0.6"/>
<path d="M410.01,192.54 L410.01,195.14 M408.81,195.14 L411.21,195.14" stroke="#ff0000" stroke-width="0.6"/>
<path d="M412.10,193.16 L412.10,195.76 M410.90,195.76 L413.30,195.76" stroke="#ff0000" stroke-width="0.6"/>
<path d="M414.19,193.73 L414.19,196.33 M412.99,196.33 L415.39,196.33" stroke="#ff0000" stroke-width="0.6"/>
<path d="M416.27,196.55 L416.27,199.15 M415.07,199.15 L417.47,199.15" stroke="#ff0000" stroke-width="0.6"/>
<path d="M418.36,194.87 L418.36,197.47 M417.16,197.47 L419.56,197.47" stroke="#ff0000" stroke-width="0.6"/>
<path d="M420.44,196.23 L420.44,198.83 M419.25,198.83 L421.64,198.83" stroke="#ff0000" stroke-width="0.6"/>
<path d="M422.53,195.43 L422.53,198.03 M421.33,198.03 L423.73,198.03" stroke="#ff0000" stroke-width="0.6"/>
<path d="M424.62,198.98 L424.62,201.58 M423.42,201.58 L425.82,201.58" stroke="#ff0000" stroke-width="0.6"/>
<path d="M426.70,198.95 L426.70,201.55 M425.50,201.55 L427.90,201.55" stroke="#ff0000" stroke-width="0.6"/>
<path d="M428.79,198.61 L428.79,201.21 M427.59,201.21 L429.99,201.21" stroke="#ff0000" stroke-width="0.6"/>
<path d="M430.88,199.16 L430.88,201.77 M429.68,201.77 L432.07,201.77" stroke="#ff0000" stroke-width="0.6"/>
<path d="M432.96,202.47 L432.96,205.08 M431.76,205.08 L434.16,205.08" stroke="#ff0000" stroke-width="0.6"/>
<path d="M435.05,199.48 L435.05,202.09 M433.85,202.09 L436.25,202.09" stroke="#ff0000" stroke-width="0.6"/>
<path d="M437.13,203.28 L437.13,205.88 M435.93,205.88 L438.33,205.88" stroke="#ff0000" stroke-width="0.6"/>
<path d="M439.22,201.26 L439.22,203.86 M438.02,203.86 L440.42,203.86" stroke="#ff0000" stroke-width="0.6"/>
<path d="M441.31,204.03 L441.31,206.63 M440.11,206.63 L442.50,206.63" stroke="#ff0000" stroke-width="0.6"/>
<path d="M443.39,204.78 L443.39,207.38 M442.19,207.38 L444.59,207.38" stroke="#ff0000" stroke-width="0.6"/>
<path d="M445.48,206.51 L445.48,209.12 M444.28,209.12 L446.68,209.12" stroke="#ff0000" stroke-width="0.6"/>
<path d="M447.56,205.40 L447.56,208.00 M446.36,208.00 L448.76,208.00" stroke="#ff0000" stroke-width="0.6"/>
<path d="M449.65,202.22 L449.65,204.82 M448.45,204.82 L450.85,204.82" stroke="#ff0000" stroke-width="0.6"/>
<path d="M451.74,207.07 L451.74,209.67 M450.54,209.67 L452.94,209.67" stroke="#ff0000" stroke-width="0.6"/>
<path d="M453.82,204.34 L453.82,206.94 M452.62,206.94 L455.02,206.94" stroke="#ff0000" stroke-width="0.6"/>
<path d="M455.91,205.05 L455.91,207.65 M454.71,207.65 L457.11,207.65" stroke="#ff0000" stroke-width="0.6"/>
<path d="M457.99,207.93 L457.99,210.53 M456.79,210.53 L459.19,210.53" stroke="#ff0000" stroke-width="0.6"/>
<path d="M460.08,206.11 L460.08,208.71 M458.88,208.71 L461.28,208.71" stroke="#ff0000" stroke-width="0.6"/>
<path d="M462.17,206.05 L462.17,208.66 M460.97,208.66 L463.37,208.66" stroke="#ff0000" stroke-width="0.6"/>
<path d="M464.25,208.84 L464.25,211.44 M463.05,211.44 L465.45,211.44" stroke="#ff0000" stroke-width="0.6"/>
<path d="M466.34,209.48 L466.34,212.08 M465.14,212.08 L467.54,212.08" stroke="#ff0000" stroke-width="0.6"/>
<path d="M468.42,207.37 L468.42,209.97 M467.22,209.97 L469.62,209.97" stroke="#ff0000" stroke-width="0.6"/>
<path d="M470.51,208.75 L470.51,211.36 M469.31,211.36 L471.71,211.36" stroke="#ff0000" stroke-width="0.6"/>
<path d="M472.60,206.44 L472.60,209.04 M471.40,209.04 L473.80,209.04" stroke="#ff0000" stroke-width="0.6"/>
<path d="M474.68,209.14 L474.68,211.75 M473.48,211.75 L475.88,211.75" stroke="#ff0000" stroke-width="0.6"/>
<path d="M476.77,211.69 L476.77,214.29 M475.57,214.29 L477.97,214.29" stroke="#ff0000" stroke-width="0.6"/>
<path d="M478.85,210.30 L478.85,212.90 M477.65,212.90 L480.05,212.90" stroke="#ff0000" stroke-width="0.6"/>
<path d="M480.94,212.16 L480.94,214.76 M479.74,214.76 L482.14,214.76" stroke="#ff0000" stroke-width="0.6"/>
<path d="M483.02,209.54 L483.02,212.14 M481.82,212.14 L484.22,212.14" stroke="#ff0000" stroke-width="0.6"/>
<path d="M485.11,209.80 L485.11,212.40 M483.91,212.40 L486.31,212.40" stroke="#ff0000" stroke-width="0.6"/>
<path d="M487.20,211.60 L487.20,214.20 M486.00,214.20 L488.40,214.20" stroke="#ff0000" stroke-width="0.6"/>
<path d="M489.28,212.46 L489.28,215.06 M488.08,215.06 L490.48,215.06" stroke="#ff0000" stroke-width="0.6"/>
<path d="M491.37,210.02 L491.37,212.62 M490.17,212.62 L492.57,212.62" stroke="#ff0000" stroke-width="0.6"/>
<path d="M493.45,212.02 L493.45,214.63 M492.25,214.63 L494.65,214.63" stroke="#ff0000" stroke-width="0.6"/>
<path d="M495.54,209.83 L495.54,212.44 M494.34,212.44 L496.74,212.44" stroke="#ff0000" stroke-width="0.6"/>
<path d="M497.63,213.18 L497.63,215.78 M496.43,215.78 L498.83,215.78" stroke="#ff0000" stroke-width="0.6"/>
<path d="M499.71,212.28 L499.71,214.88 M498.51,214.88 L500.91,214.88" stroke="#ff0000" stroke-width="0.6"/>
<path d="M501.80,212.79 L501.80,215.39 M500.60,215.39 L503.00,215.39" stroke="#ff0000" stroke-width="0.6"/>
<path d="M503.88,213.62 L503.88,216.22 M502.69,216.22 L505.08,216.22" stroke="#ff0000" stroke-width="0.6"/>
<path d="M505.97,208.25 L505.97,210.85 M504.77,210.85 L507.17,210.85" stroke="#ff0000" stroke-width="0.6"/>
<path d="M508.06,209.87 L508.06,212.47 M506.86,212.47 L509.26,212.47" stroke="#ff0000" stroke-width="0.6"/>
<path d="M510.14,213.33 L510.14,215.93 M508.94,215.93 L511.34,215.93" stroke="#ff0000" stroke-width="0.6"/>
<path d="M512.23,211.35 L512.23,213.95 M511.03,213.95 L513.43,213.95" stroke="#ff0000" stroke-width="0.6"/>
<path d="M514.32,215.21 L514.32,217.81 M513.12,217.81 L515.52,217.81" stroke="#ff0000" stroke-width="0.6"/>
<path d="M516.40,210.84 L516.40,213.44 M515.20,213.44 L517.60,213.44" stroke="#ff0000" stroke-width="0.6"/>
<path d="M518.49,211.16 L518.49,213.76 M517.29,213.76 L519.69,213.76" stroke="#ff0000" stroke-width="0.6"/>
<path d="M520.57,213.32 L520.57,215.92 M519.37,215.92 L521.77,215.92" stroke="#ff0000" stroke-width="0.6"/>
<path d="M522.66,213.40 L522.66,216.00 M521.46,216.00 L523.86,216.00" stroke="#ff0000" stroke-width="0.6"/>
<path d="M524.75,212.59 L524.75,215.19 M523.54,215.19 L525.95,215.19" stroke="#ff0000" stroke-width="0.6"/>
<path d="M526.83,212.34 L526.83,214.95 M525.63,214.95 L528.03,214.95" stroke="#ff0000" stroke-width="0.6"/>
<path d="M528.92,213.60 L528.92,216.20 M527.72,216.20 L530.12,216.20" stroke="#ff0000" stroke-width="0.6"/>
<circle cx="383.94" cy="226.16" r="1.25" fill="#fff" stroke="#ff0000" stroke-width="0.9"/>
<circle cx="386.03" cy="226.80" r="1.25" fill="#fff" stroke="#ff0000" stroke-width="0.9"/>
<circle cx="388.11" cy="223.24" r="1.25" fill="#fff" stroke="#ff0000" stroke-width="0.9"/>
<circle cx="390.20" cy="226.15" r="1.25" fill="#fff" stroke="#ff0000" stroke-width="0.9"/>
<circle cx="392.28" cy="226.47" r="1.25" fill="#fff" stroke="#ff0000" stroke-width="0.9"/>
<circle cx="394.37" cy="226.22" r="1.25" fill="#fff" stroke="#ff0000" stroke-width="0.9"/>
<circle cx="396.46" cy="227.18" r="1.25" fill="#fff" stroke="#ff0000" stroke-width="0.9"/>
<circle cx="398.54" cy="227.38" r="1.25" fill="#fff" stroke="#ff0000" stroke-width="0.9"/>
<circle cx="400.63" cy="226.13" r="1.25" fill="#fff" stroke="#ff0000" stroke-width="0.9"/>
<circle cx="402.71" cy="227.11" r="1.25" fill="#fff" stroke="#ff0000" stroke-width="0.9"/>
<circle cx="404.80" cy="225.86" r="1.25" fill="#fff" stroke="#ff0000" stroke-width="0.9"/>
<circle cx="406.05" cy="183.32" r="1.25" fill="#fff" stroke="#ff0000" stroke-width="0.9"/>
<circle cx="407.93" cy="188.88" r="1.25" fill="#fff" stroke="#ff0000" stroke-width="0.9"/>
<circle cx="410.01" cy="192.54" r="1.25" fill="#fff" stroke="#ff0000" stroke-width="0.9"/>
<circle cx="412.10" cy="193.16" r="1.25" fill="#fff" stroke="#ff0000" stroke-width="0.9"/>
<circle cx="414.19" cy="193.73" r="1.25" fill="#fff" stroke="#ff0000" stroke-width="0.9"/>
<circle cx="416.27" cy="196.55" r="1.25" fill="#fff" stroke="#ff0000" stroke-width="0.9"/>
<circle cx="418.36" cy="194.87" r="1.25" fill="#fff" stroke="#ff0000" stroke-width="0.9"/>
<circle cx="420.44" cy="196.23" r="1.25" fill="#fff" stroke="#ff0000" stroke-width="0.9"/>
<circle cx="422.53" cy="195.43" r="1.25" fill="#fff" stroke="#ff0000" stroke-width="0.9"/>
<circle cx="424.62" cy="198.98" r="1.25" fill="#fff" stroke="#ff0000" stroke-width="0.9"/>
<circle cx="426.70" cy="198.95" r="1.25" fill="#fff" stroke="#ff0000" stroke-width="0.9"/>
<circle cx="428.79" cy="198.61" r="1.25" fill="#fff" stroke="#ff0000" stroke-width="0.9"/>
<circle cx="430.88" cy="199.16" r="1.25" fill="#fff" stroke="#ff0000" stroke-width="0.9"/>
<circle cx="432.96" cy="202.47" r="1.25" fill="#fff" stroke="#ff0000" stroke-width="0.9"/>
<circle cx="435.05" cy="199.48" r="1.25" fill="#fff" stroke="#ff0000" stroke-width="0.9"/>
<circle cx="437.13" cy="203.28" r="1.25" fill="#fff" stroke="#ff0000" stroke-width="0.9"/>
<circle cx="439.22" cy="201.26" r="1.25" fill="#fff" stroke="#ff0000" stroke-width="0.9"/>
<circle cx="441.31" cy="204.03" r="1.25" fill="#fff" stroke="#ff0000" stroke-width="0.9"/>
<circle cx="443.39" cy="204.78" r="1.25" fill="#fff" stroke="#ff0000" stroke-width="0.9"/>
<circle cx="445.48" cy="206.51" r="1.25" fill="#fff" stroke="#ff0000" stroke-width="0.9"/>
<circle cx="447.56" cy="205.40" r="1.25" fill="#fff" stroke="#ff0000" stroke-width="0.9"/>
<circle cx="449.65" cy="202.22" r="1.25" fill="#fff" stroke="#ff0000" stroke-width="0.9"/>
<circle cx="451.74" cy="207.07" r="1.25" fill="#fff" stroke="#ff0000" stroke-width="0.9"/>
<circle cx="453.82" cy="204.34" r="1.25" fill="#fff" stroke="#ff0000" stroke-width="0.9"/>
<circle cx="455.91" cy="205.05" r="1.25" fill="#fff" stroke="#ff0000" stroke-width="0.9"/>
<circle cx="457.99" cy="207.93" r="1.25" fill="#fff" stroke="#ff0000" stroke-width="0.9"/>
<circle cx="460.08" cy="206.11" r="1.25" fill="#fff" stroke="#ff0000" stroke-width="0.9"/>
<circle cx="462.17" cy="206.05" r="1.25" fill="#fff" stroke="#ff0000" stroke-width="0.9"/>
<circle cx="464.25" cy="208.84" r="1.25" fill="#fff" stroke="#ff0000" stroke-width="0.9"/>
<circle cx="466.34" cy="209.48" r="1.25" fill="#fff" stroke="#ff0000" stroke-width="0.9"/>
<circle cx="468.42" cy="207.37" r="1.25" fill="#fff" stroke="#ff0000" stroke-width="0.9"/>
<circle cx="470.51" cy="208.75" r="1.25" fill="#fff" stroke="#ff0000" stroke-width="0.9"/>
<circle cx="472.60" cy="206.44" r="1.25" fill="#fff" stroke="#ff0000" stroke-width="0.9"/>
<circle cx="474.68" cy="209.14" r="1.25" fill="#fff" stroke="#ff0000" stroke-width="0.9"/>
<circle cx="476.77" cy="211.69" r="1.25" fill="#fff" stroke="#ff0000" stroke-width="0.9"/>
<circle cx="478.85" cy="210.30" r="1.25" fill="#fff" stroke="#ff0000" stroke-width="0.9"/>
<circle cx="480.94" cy="212.16" r="1.25" fill="#fff" stroke="#ff0000" stroke-width="0.9"/>
<circle cx="483.02" cy="209.54" r="1.25" fill="#fff" stroke="#ff0000" stroke-width="0.9"/>
<circle cx="485.11" cy="209.80" r="1.25" fill="#fff" stroke="#ff0000" stroke-width="0.9"/>
<circle cx="487.20" cy="211.60" r="1.25" fill="#fff" stroke="#ff0000" stroke-width="0.9"/>
<circle cx="489.28" cy="212.46" r="1.25" fill="#fff" stroke="#ff0000" stroke-width="0.9"/>
<circle cx="491.37" cy="210.02" r="1.25" fill="#fff" stroke="#ff0000" stroke-width="0.9"/>
<circle cx="493.45" cy="212.02" r="1.25" fill="#fff" stroke="#ff0000" stroke-width="0.9"/>
<circle cx="495.54" cy="209.83" r="1.25" fill="#fff" stroke="#ff0000" stroke-width="0.9"/>
<circle cx="497.63" cy="213.18" r="1.25" fill="#fff" stroke="#ff0000" stroke-width="0.9"/>
<circle cx="499.71" cy="212.28" r="1.25" fill="#fff" stroke="#ff0000" stroke-width="0.9"/>
<circle cx="501.80" cy="212.79" r="1.25" fill="#fff" stroke="#ff0000" stroke-width="0.9"/>
<circle cx="503.88" cy="213.62" r="1.25" fill="#fff" stroke="#ff0000" stroke-width="0.9"/>
<circle cx="505.97" cy="208.25" r="1.25" fill="#fff" stroke="#ff0000" stroke-width="0.9"/>
<circle cx="508.06" cy="209.87" r="1.25" fill="#fff" stroke="#ff0000" stroke-width="0.9"/>
<circle cx="510.14" cy="213.33" r="1.25" fill="#fff" stroke="#ff0000" stroke-width="0.9"/>
<circle cx="512.23" cy="211.35" r="1.25" fill="#fff" stroke="#ff0000" stroke-width="0.9"/>
<circle cx="514.32" cy="215.21" r="1.25" fill="#fff" stroke="#ff0000" stroke-width="0.9"/>
<circle cx="516.40" cy="210.84" r="1.25" fill="#fff" stroke="#ff0000" stroke-width="0.9"/>
<circle cx="518.49" cy="211.16" r="1.25" fill="#fff" stroke="#ff0000" stroke-width="0.9"/>
<circle cx="520.57" cy="213.32" r="1.25" fill="#fff" stroke="#ff0000" stroke-width="0.9"/>
<circle cx="522.66" cy="213.40" r="1.25" fill="#fff" stroke="#ff0000" stroke-width="0.9"/>
<circle cx="524.75" cy="212.59" r="1.25" fill="#fff" stroke="#ff0000" stroke-width="0.9"/>
<circle cx="526.83" cy="212.34" r="1.25" fill="#fff" stroke="#ff0000" stroke-width="0.9"/>
<circle cx="528.92" cy="213.60" r="1.25" fill="#fff" stroke="#ff0000" stroke-width="0.9"/>
<path d="M383.94,227.64 L383.94,226.34 M382.74,226.34 L385.14,226.34" stroke="#111" stroke-width="0.6"/>
<path d="M386.03,227.16 L386.03,225.86 M384.83,225.86 L387.23,225.86" stroke="#111" stroke-width="0.6"/>
<path d="M388.11,228.49 L388.11,227.19 M386.91,227.19 L389.31,227.19" stroke="#111" stroke-width="0.6"/>
<path d="M390.20,228.45 L390.20,227.15 M389.00,227.15 L391.40,227.15" stroke="#111" stroke-width="0.6"/>
<path d="M392.28,227.49 L392.28,226.19 M391.08,226.19 L393.48,226.19" stroke="#111" stroke-width="0.6"/>
<path d="M394.37,226.44 L394.37,225.14 M393.17,225.14 L395.57,225.14" stroke="#111" stroke-width="0.6"/>
<path d="M396.46,227.24 L396.46,225.94 M395.26,225.94 L397.66,225.94" stroke="#111" stroke-width="0.6"/>
<path d="M398.54,228.20 L398.54,226.90 M397.34,226.90 L399.74,226.90" stroke="#111" stroke-width="0.6"/>
<path d="M400.63,227.82 L400.63,226.52 M399.43,226.52 L401.83,226.52" stroke="#111" stroke-width="0.6"/>
<path d="M402.71,227.22 L402.71,225.92 M401.51,225.92 L403.91,225.92" stroke="#111" stroke-width="0.6"/>
<path d="M404.80,226.43 L404.80,225.13 M403.60,225.13 L406.00,225.13" stroke="#111" stroke-width="0.6"/>
<path d="M406.05,178.55 L406.05,174.65 M404.85,174.65 L407.25,174.65" stroke="#111" stroke-width="0.6"/>
<path d="M407.93,185.17 L407.93,182.57 M406.73,182.57 L409.13,182.57" stroke="#111" stroke-width="0.6"/>
<path d="M410.01,187.12 L410.01,184.52 M408.81,184.52 L411.21,184.52" stroke="#111" stroke-width="0.6"/>
<path d="M412.10,188.16 L412.10,185.56 M410.90,185.56 L413.30,185.56" stroke="#111" stroke-width="0.6"/>
<path d="M414.19,188.67 L414.19,186.07 M412.99,186.07 L415.39,186.07" stroke="#111" stroke-width="0.6"/>
<path d="M416.27,191.20 L416.27,188.60 M415.07,188.60 L417.47,188.60" stroke="#111" stroke-width="0.6"/>
<path d="M418.36,190.95 L418.36,188.35 M417.16,188.35 L419.56,188.35" stroke="#111" stroke-width="0.6"/>
<path d="M420.44,191.40 L420.44,188.80 M419.25,188.80 L421.64,188.80" stroke="#111" stroke-width="0.6"/>
<path d="M422.53,189.98 L422.53,187.38 M421.33,187.38 L423.73,187.38" stroke="#111" stroke-width="0.6"/>
<path d="M424.62,193.45 L424.62,190.85 M423.42,190.85 L425.82,190.85" stroke="#111" stroke-width="0.6"/>
<path d="M426.70,192.47 L426.70,189.87 M425.50,189.87 L427.90,189.87" stroke="#111" stroke-width="0.6"/>
<path d="M428.79,196.30 L428.79,193.70 M427.59,193.70 L429.99,193.70" stroke="#111" stroke-width="0.6"/>
<path d="M430.88,193.81 L430.88,191.21 M429.68,191.21 L432.07,191.21" stroke="#111" stroke-width="0.6"/>
<path d="M432.96,195.44 L432.96,192.84 M431.76,192.84 L434.16,192.84" stroke="#111" stroke-width="0.6"/>
<path d="M435.05,197.03 L435.05,194.43 M433.85,194.43 L436.25,194.43" stroke="#111" stroke-width="0.6"/>
<path d="M437.13,196.63 L437.13,194.03 M435.93,194.03 L438.33,194.03" stroke="#111" stroke-width="0.6"/>
<path d="M439.22,195.52 L439.22,192.92 M438.02,192.92 L440.42,192.92" stroke="#111" stroke-width="0.6"/>
<path d="M441.31,197.85 L441.31,195.25 M440.11,195.25 L442.50,195.25" stroke="#111" stroke-width="0.6"/>
<path d="M443.39,195.99 L443.39,193.39 M442.19,193.39 L444.59,193.39" stroke="#111" stroke-width="0.6"/>
<path d="M445.48,195.49 L445.48,192.88 M444.28,192.88 L446.68,192.88" stroke="#111" stroke-width="0.6"/>
<path d="M447.56,195.59 L447.56,192.99 M446.36,192.99 L448.76,192.99" stroke="#111" stroke-width="0.6"/>
<path d="M449.65,195.84 L449.65,193.24 M448.45,193.24 L450.85,193.24" stroke="#111" stroke-width="0.6"/>
<path d="M451.74,200.73 L451.74,198.13 M450.54,198.13 L452.94,198.13" stroke="#111" stroke-width="0.6"/>
<path d="M453.82,198.33 L453.82,195.73 M452.62,195.73 L455.02,195.73" stroke="#111" stroke-width="0.6"/>
<path d="M455.91,200.17 L455.91,197.57 M454.71,197.57 L457.11,197.57" stroke="#111" stroke-width="0.6"/>
<path d="M457.99,197.71 L457.99,195.11 M456.79,195.11 L459.19,195.11" stroke="#111" stroke-width="0.6"/>
<path d="M460.08,199.28 L460.08,196.68 M458.88,196.68 L461.28,196.68" stroke="#111" stroke-width="0.6"/>
<path d="M462.17,199.18 L462.17,196.58 M460.97,196.58 L463.37,196.58" stroke="#111" stroke-width="0.6"/>
<path d="M464.25,198.92 L464.25,196.32 M463.05,196.32 L465.45,196.32" stroke="#111" stroke-width="0.6"/>
<path d="M466.34,200.74 L466.34,198.14 M465.14,198.14 L467.54,198.14" stroke="#111" stroke-width="0.6"/>
<path d="M468.42,199.74 L468.42,197.14 M467.22,197.14 L469.62,197.14" stroke="#111" stroke-width="0.6"/>
<path d="M470.51,201.16 L470.51,198.56 M469.31,198.56 L471.71,198.56" stroke="#111" stroke-width="0.6"/>
<path d="M472.60,196.72 L472.60,194.12 M471.40,194.12 L473.80,194.12" stroke="#111" stroke-width="0.6"/>
<path d="M474.68,200.90 L474.68,198.30 M473.48,198.30 L475.88,198.30" stroke="#111" stroke-width="0.6"/>
<path d="M476.77,200.21 L476.77,197.61 M475.57,197.61 L477.97,197.61" stroke="#111" stroke-width="0.6"/>
<path d="M478.85,203.16 L478.85,200.56 M477.65,200.56 L480.05,200.56" stroke="#111" stroke-width="0.6"/>
<path d="M480.94,202.76 L480.94,200.16 M479.74,200.16 L482.14,200.16" stroke="#111" stroke-width="0.6"/>
<path d="M483.02,201.78 L483.02,199.18 M481.82,199.18 L484.22,199.18" stroke="#111" stroke-width="0.6"/>
<path d="M485.11,199.19 L485.11,196.59 M483.91,196.59 L486.31,196.59" stroke="#111" stroke-width="0.6"/>
<path d="M487.20,199.28 L487.20,196.68 M486.00,196.68 L488.40,196.68" stroke="#111" stroke-width="0.6"/>
<path d="M489.28,200.12 L489.28,197.52 M488.08,197.52 L490.48,197.52" stroke="#111" stroke-width="0.6"/>
<path d="M491.37,201.65 L491.37,199.05 M490.17,199.05 L492.57,199.05" stroke="#111" stroke-width="0.6"/>
<path d="M493.45,197.66 L493.45,195.06 M492.25,195.06 L494.65,195.06" stroke="#111" stroke-width="0.6"/>
<path d="M495.54,202.34 L495.54,199.74 M494.34,199.74 L496.74,199.74" stroke="#111" stroke-width="0.6"/>
<path d="M497.63,202.09 L497.63,199.49 M496.43,199.49 L498.83,199.49" stroke="#111" stroke-width="0.6"/>
<path d="M499.71,199.95 L499.71,197.35 M498.51,197.35 L500.91,197.35" stroke="#111" stroke-width="0.6"/>
<path d="M501.80,202.37 L501.80,199.77 M500.60,199.77 L503.00,199.77" stroke="#111" stroke-width="0.6"/>
<path d="M503.88,200.36 L503.88,197.76 M502.69,197.76 L505.08,197.76" stroke="#111" stroke-width="0.6"/>
<path d="M505.97,199.24 L505.97,196.64 M504.77,196.64 L507.17,196.64" stroke="#111" stroke-width="0.6"/>
<path d="M508.06,200.94 L508.06,198.34 M506.86,198.34 L509.26,198.34" stroke="#111" stroke-width="0.6"/>
<path d="M510.14,200.19 L510.14,197.59 M508.94,197.59 L511.34,197.59" stroke="#111" stroke-width="0.6"/>
<path d="M512.23,200.80 L512.23,198.20 M511.03,198.20 L513.43,198.20" stroke="#111" stroke-width="0.6"/>
<path d="M514.32,201.97 L514.32,199.37 M513.12,199.37 L515.52,199.37" stroke="#111" stroke-width="0.6"/>
<path d="M516.40,206.02 L516.40,203.42 M515.20,203.42 L517.60,203.42" stroke="#111" stroke-width="0.6"/>
<path d="M518.49,202.88 L518.49,200.28 M517.29,200.28 L519.69,200.28" stroke="#111" stroke-width="0.6"/>
<path d="M520.57,200.92 L520.57,198.32 M519.37,198.32 L521.77,198.32" stroke="#111" stroke-width="0.6"/>
<path d="M522.66,203.58 L522.66,200.98 M521.46,200.98 L523.86,200.98" stroke="#111" stroke-width="0.6"/>
<path d="M524.75,201.84 L524.75,199.24 M523.54,199.24 L525.95,199.24" stroke="#111" stroke-width="0.6"/>
<path d="M526.83,200.61 L526.83,198.00 M525.63,198.00 L528.03,198.00" stroke="#111" stroke-width="0.6"/>
<path d="M528.92,198.79 L528.92,196.18 M527.72,196.18 L530.12,196.18" stroke="#111" stroke-width="0.6"/>
<circle cx="383.94" cy="227.64" r="1.9" fill="#000"/>
<circle cx="386.03" cy="227.16" r="1.9" fill="#000"/>
<circle cx="388.11" cy="228.49" r="1.9" fill="#000"/>
<circle cx="390.20" cy="228.45" r="1.9" fill="#000"/>
<circle cx="392.28" cy="227.49" r="1.9" fill="#000"/>
<circle cx="394.37" cy="226.44" r="1.9" fill="#000"/>
<circle cx="396.46" cy="227.24" r="1.9" fill="#000"/>
<circle cx="398.54" cy="228.20" r="1.9" fill="#000"/>
<circle cx="400.63" cy="227.82" r="1.9" fill="#000"/>
<circle cx="402.71" cy="227.22" r="1.9" fill="#000"/>
<circle cx="404.80" cy="226.43" r="1.9" fill="#000"/>
<circle cx="406.05" cy="178.55" r="1.9" fill="#000"/>
<circle cx="407.93" cy="185.17" r="1.9" fill="#000"/>
<circle cx="410.01" cy="187.12" r="1.9" fill="#000"/>
<circle cx="412.10" cy="188.16" r="1.9" fill="#000"/>
<circle cx="414.19" cy="188.67" r="1.9" fill="#000"/>
<circle cx="416.27" cy="191.20" r="1.9" fill="#000"/>
<circle cx="418.36" cy="190.95" r="1.9" fill="#000"/>
<circle cx="420.44" cy="191.40" r="1.9" fill="#000"/>
<circle cx="422.53" cy="189.98" r="1.9" fill="#000"/>
<circle cx="424.62" cy="193.45" r="1.9" fill="#000"/>
<circle cx="426.70" cy="192.47" r="1.9" fill="#000"/>
<circle cx="428.79" cy="196.30" r="1.9" fill="#000"/>
<circle cx="430.88" cy="193.81" r="1.9" fill="#000"/>
<circle cx="432.96" cy="195.44" r="1.9" fill="#000"/>
<circle cx="435.05" cy="197.03" r="1.9" fill="#000"/>
<circle cx="437.13" cy="196.63" r="1.9" fill="#000"/>
<circle cx="439.22" cy="195.52" r="1.9" fill="#000"/>
<circle cx="441.31" cy="197.85" r="1.9" fill="#000"/>
<circle cx="443.39" cy="195.99" r="1.9" fill="#000"/>
<circle cx="445.48" cy="195.49" r="1.9" fill="#000"/>
<circle cx="447.56" cy="195.59" r="1.9" fill="#000"/>
<circle cx="449.65" cy="195.84" r="1.9" fill="#000"/>
<circle cx="451.74" cy="200.73" r="1.9" fill="#000"/>
<circle cx="453.82" cy="198.33" r="1.9" fill="#000"/>
<circle cx="455.91" cy="200.17" r="1.9" fill="#000"/>
<circle cx="457.99" cy="197.71" r="1.9" fill="#000"/>
<circle cx="460.08" cy="199.28" r="1.9" fill="#000"/>
<circle cx="462.17" cy="199.18" r="1.9" fill="#000"/>
<circle cx="464.25" cy="198.92" r="1.9" fill="#000"/>
<circle cx="466.34" cy="200.74" r="1.9" fill="#000"/>
<circle cx="468.42" cy="199.74" r="1.9" fill="#000"/>
<circle cx="470.51" cy="201.16" r="1.9" fill="#000"/>
<circle cx="472.60" cy="196.72" r="1.9" fill="#000"/>
<circle cx="474.68" cy="200.90" r="1.9" fill="#000"/>
<circle cx="476.77" cy="200.21" r="1.9" fill="#000"/>
<circle cx="478.85" cy="203.16" r="1.9" fill="#000"/>
<circle cx="480.94" cy="202.76" r="1.9" fill="#000"/>
<circle cx="483.02" cy="201.78" r="1.9" fill="#000"/>
<circle cx="485.11" cy="199.19" r="1.9" fill="#000"/>
<circle cx="487.20" cy="199.28" r="1.9" fill="#000"/>
<circle cx="489.28" cy="200.12" r="1.9" fill="#000"/>
<circle cx="491.37" cy="201.65" r="1.9" fill="#000"/>
<circle cx="493.45" cy="197.66" r="1.9" fill="#000"/>
<circle cx="495.54" cy="202.34" r="1.9" fill="#000"/>
<circle cx="497.63" cy="202.09" r="1.9" fill="#000"/>
<circle cx="499.71" cy="199.95" r="1.9" fill="#000"/>
<circle cx="501.80" cy="202.37" r="1.9" fill="#000"/>
<circle cx="503.88" cy="200.36" r="1.9" fill="#000"/>
<circle cx="505.97" cy="199.24" r="1.9" fill="#000"/>
<circle cx="508.06" cy="200.94" r="1.9" fill="#000"/>
<circle cx="510.14" cy="200.19" r="1.9" fill="#000"/>
<circle cx="512.23" cy="200.80" r="1.9" fill="#000"/>
<circle cx="514.32" cy="201.97" r="1.9" fill="#000"/>
<circle cx="516.40" cy="206.02" r="1.9" fill="#000"/>
<circle cx="518.49" cy="202.88" r="1.9" fill="#000"/>
<circle cx="520.57" cy="200.92" r="1.9" fill="#000"/>
<circle cx="522.66" cy="203.58" r="1.9" fill="#000"/>
<circle cx="524.75" cy="201.84" r="1.9" fill="#000"/>
<circle cx="526.83" cy="200.61" r="1.9" fill="#000"/>
<circle cx="528.92" cy="198.79" r="1.9" fill="#000"/>
<path d="M446.8,138.4 L450.2,138.4 L450.7,135.6 C451.5,140 452.5,146 453.3,147.2 C454.5,150 455.5,154 456.3,156 C457.3,158.5 458.5,161.6 460.2,161.6 C462,161 464.5,156.5 466.5,153.7 C468.5,150.5 470.5,147 472.1,144.7 C473.5,141.5 475,136 476.5,133.2" fill="none" stroke="#5a5a5a" stroke-width="0.7"/>
<path d="M446.8,138.4 L450.2,138.4 L450.7,135.6 C451.5,140 452.5,146 453.3,147.2 C454,152 454.5,158 455.2,165 C456,169 457,172.1 458.6,172.1 C460.5,171 463,164 465.3,160.4 C467.5,156 469.5,152 471,149.2 C473,145 475,140 478.6,136.2" fill="none" stroke="#6a6a6a" stroke-width="0.7"/>
<path d="M493.7,137.2 L495.2,137.2 L496.5,136.4 L498.4,138.1 C499.5,142 501.5,150 503.1,156.8 C503.8,159.5 504.3,161.5 504.8,162.5 C505.5,163.5 506.5,162.5 507.5,161.5 C510,157 514,150 517,145 C520,140.5 523,137 525.6,134.8" fill="none" stroke="#e8553a" stroke-width="0.7"/>
<path d="M493.7,137.2 L495.2,137.2 L496.5,136.4 L498.4,138.1 C499.5,142 501.5,150 503.1,156.8 C503.8,159.5 504.3,161.5 504.8,162.5 C505.3,165 505.8,167.5 506.5,168.2 C507.5,167.5 509,164 510.5,161 C513,155 516,149.5 519,145 C521.5,141 524,138 526.5,136.4" fill="none" stroke="#e8553a" stroke-width="0.7"/>
<text x="457.30" y="155.10" font-size="11.5" fill="#231f20" text-anchor="start" >a</text>
<text x="447.20" y="172.10" font-size="11.8" fill="#231f20" text-anchor="start" >b</text>
<text x="394.60" y="218.00" font-size="11.8" fill="#231f20" text-anchor="start" >a</text>
<text x="520.30" y="227.40" font-size="11.5" fill="#231f20" text-anchor="start" >b</text>
<line x1="406.0" y1="154.9" x2="406.00" y2="160.20" stroke="#231f20" stroke-width="0.9"/>
<path d="M406.0,165.9 L403.60,159.70 L408.40,159.70 Z" fill="#231f20"/>
<text x="209.60" y="119.80" font-size="18.3" fill="#231f20" text-anchor="start" stroke="#231f20" stroke-width="0.3" textLength="11.1" lengthAdjust="spacingAndGlyphs" >C</text>
<circle cx="223.1" cy="128.9" r="2.0" fill="#a3a3a3"/>
<text x="232.50" y="132.60" font-size="9.2" fill="#231f20" text-anchor="start" stroke="#231f20" stroke-width="0.2" textLength="19.7" lengthAdjust="spacingAndGlyphs" >Male</text>
<circle cx="223.1" cy="137.9" r="1.55" fill="#fff" stroke="#333" stroke-width="0.85"/>
<text x="232.50" y="141.30" font-size="9.2" fill="#231f20" text-anchor="start" stroke="#231f20" stroke-width="0.2" textLength="29" lengthAdjust="spacingAndGlyphs" >Female</text>
<text x="261.50" y="126.90" font-size="9.2" fill="#231f20" text-anchor="start" stroke="#231f20" stroke-width="0.2" textLength="60.5" lengthAdjust="spacingAndGlyphs" >last 10min plot</text>
<text x="278.00" y="146.50" font-size="8.9" fill="#231f20" text-anchor="start" stroke="#231f20" stroke-width="0.2" textLength="31.6" lengthAdjust="spacingAndGlyphs" >p = 0.27</text>
<path d="M248.1,157.70 L248.1,245.1" fill="none" stroke="#9a9a9a" stroke-width="1.1"/>
<path d="M247.6,245.1 L321.2,245.1" fill="none" stroke="#6a6a6a" stroke-width="1.1"/>
<line x1="248.2" y1="244.10" x2="250.10" y2="244.10" stroke="#9a9a9a" stroke-width="0.9"/>
<line x1="248.2" y1="229.70" x2="249.60" y2="229.70" stroke="#9a9a9a" stroke-width="0.9"/>
<line x1="248.2" y1="215.30" x2="250.10" y2="215.30" stroke="#9a9a9a" stroke-width="0.9"/>
<line x1="248.2" y1="200.90" x2="249.60" y2="200.90" stroke="#9a9a9a" stroke-width="0.9"/>
<line x1="248.2" y1="186.50" x2="250.10" y2="186.50" stroke="#9a9a9a" stroke-width="0.9"/>
<line x1="248.2" y1="172.10" x2="249.60" y2="172.10" stroke="#9a9a9a" stroke-width="0.9"/>
<line x1="248.2" y1="157.70" x2="250.10" y2="157.70" stroke="#9a9a9a" stroke-width="0.9"/>
<text x="244.20" y="246.90" font-size="9.1" fill="#231f20" text-anchor="end" stroke="#231f20" stroke-width="0.08" textLength="13.6" lengthAdjust="spacingAndGlyphs" >150</text>
<text x="244.20" y="218.10" font-size="9.1" fill="#231f20" text-anchor="end" stroke="#231f20" stroke-width="0.08" textLength="13.6" lengthAdjust="spacingAndGlyphs" >160</text>
<text x="244.20" y="189.30" font-size="9.1" fill="#231f20" text-anchor="end" stroke="#231f20" stroke-width="0.08" textLength="13.6" lengthAdjust="spacingAndGlyphs" >170</text>
<text x="244.20" y="160.50" font-size="9.1" fill="#231f20" text-anchor="end" stroke="#231f20" stroke-width="0.08" textLength="13.6" lengthAdjust="spacingAndGlyphs" >180</text>
<text transform="translate(226.00,253.80) rotate(-90)" x="0" y="0" font-size="10.8" fill="#231f20" stroke="#231f20" stroke-width="0.08" textLength="106.6" lengthAdjust="spacingAndGlyphs">fEPSP (% of baseline)</text>
<rect x="262.7" y="183.62" width="19.9" height="61.48" fill="#fff" stroke="#5f6062" stroke-width="1.1"/>
<rect x="287.9" y="174.4" width="20" height="70.70" fill="#ffb3ba" stroke="#5f6062" stroke-width="1.1"/>
<path d="M272.7,183.4 L272.7,177.8 M269,177.8 L276.5,177.8" stroke="#333" stroke-width="0.9"/>
<path d="M297.7,174.4 L297.7,170 M293.7,170 L301.6,170" stroke="#333" stroke-width="0.9"/>
<circle cx="272.4" cy="164.3" r="1.4" fill="#b3b3b3"/>
<circle cx="270.2" cy="198.8" r="1.4" fill="#b3b3b3"/>
<circle cx="275.7" cy="167.2" r="1.35" fill="#fff" stroke="#3d3d3d" stroke-width="0.65"/>
<circle cx="272.6" cy="177.8" r="1.35" fill="#fff" stroke="#3d3d3d" stroke-width="0.65"/>
<circle cx="269.6" cy="195" r="1.35" fill="#fff" stroke="#3d3d3d" stroke-width="0.65"/>
<circle cx="272.3" cy="199.2" r="1.35" fill="#fff" stroke="#3d3d3d" stroke-width="0.65"/>
<circle cx="294.6" cy="161.6" r="1.4" fill="#b3b3b3"/>
<circle cx="291.8" cy="167.8" r="1.4" fill="#b3b3b3"/>
<circle cx="301.2" cy="170.6" r="1.4" fill="#b3b3b3"/>
<circle cx="297.4" cy="178.1" r="1.4" fill="#b3b3b3"/>
<circle cx="294.5" cy="196.2" r="1.4" fill="#b3b3b3"/>
<circle cx="297.8" cy="158.4" r="1.35" fill="#fff" stroke="#3d3d3d" stroke-width="0.65"/>
<circle cx="294.6" cy="168.8" r="1.35" fill="#fff" stroke="#3d3d3d" stroke-width="0.65"/>
<circle cx="297.5" cy="200.7" r="1.35" fill="#fff" stroke="#3d3d3d" stroke-width="0.65"/>
<text x="273.70" y="232.00" font-size="9.0" fill="#231f20" text-anchor="middle" stroke="#231f20" stroke-width="0.12" textLength="10.4" lengthAdjust="spacingAndGlyphs" >(7)</text>
<text x="298.00" y="232.00" font-size="9.0" fill="#231f20" text-anchor="middle" stroke="#231f20" stroke-width="0.12" textLength="10.4" lengthAdjust="spacingAndGlyphs" >(9)</text>
<text x="564.80" y="119.80" font-size="18.3" fill="#231f20" text-anchor="start" stroke="#231f20" stroke-width="0.3" textLength="9.3" lengthAdjust="spacingAndGlyphs" >E</text>
<path d="M603.7,134.90 L603.7,237.50 L677.6,237.50" fill="none" stroke="#8c8c8c" stroke-width="1.1"/>
<line x1="603.7" y1="237.30" x2="605.60" y2="237.30" stroke="#8c8c8c" stroke-width="0.9"/>
<line x1="603.7" y1="224.50" x2="605.10" y2="224.50" stroke="#8c8c8c" stroke-width="0.9"/>
<line x1="603.7" y1="211.70" x2="605.60" y2="211.70" stroke="#8c8c8c" stroke-width="0.9"/>
<line x1="603.7" y1="198.90" x2="605.10" y2="198.90" stroke="#8c8c8c" stroke-width="0.9"/>
<line x1="603.7" y1="186.10" x2="605.60" y2="186.10" stroke="#8c8c8c" stroke-width="0.9"/>
<line x1="603.7" y1="173.30" x2="605.10" y2="173.30" stroke="#8c8c8c" stroke-width="0.9"/>
<line x1="603.7" y1="160.50" x2="605.60" y2="160.50" stroke="#8c8c8c" stroke-width="0.9"/>
<line x1="603.7" y1="147.70" x2="605.10" y2="147.70" stroke="#8c8c8c" stroke-width="0.9"/>
<line x1="603.7" y1="134.90" x2="605.60" y2="134.90" stroke="#8c8c8c" stroke-width="0.9"/>
<text x="600.00" y="240.40" font-size="9.3" fill="#231f20" text-anchor="end" stroke="#231f20" stroke-width="0.08" textLength="13.9" lengthAdjust="spacingAndGlyphs" >100</text>
<text x="600.00" y="214.80" font-size="9.3" fill="#231f20" text-anchor="end" stroke="#231f20" stroke-width="0.08" textLength="13.9" lengthAdjust="spacingAndGlyphs" >120</text>
<text x="600.00" y="189.20" font-size="9.3" fill="#231f20" text-anchor="end" stroke="#231f20" stroke-width="0.08" textLength="13.9" lengthAdjust="spacingAndGlyphs" >140</text>
<text x="600.00" y="163.60" font-size="9.3" fill="#231f20" text-anchor="end" stroke="#231f20" stroke-width="0.08" textLength="13.9" lengthAdjust="spacingAndGlyphs" >160</text>
<text x="600.00" y="138.00" font-size="9.3" fill="#231f20" text-anchor="end" stroke="#231f20" stroke-width="0.08" textLength="13.9" lengthAdjust="spacingAndGlyphs" >180</text>
<text transform="translate(578.40,237.50) rotate(-90)" x="0" y="0" font-size="10.8" fill="#231f20" stroke="#231f20" stroke-width="0.08" textLength="103.8" lengthAdjust="spacingAndGlyphs">fEPSP (% of baseline)</text>
<text x="620.70" y="131.30" font-size="8.6" fill="#231f20" text-anchor="start" stroke="#231f20" stroke-width="0.2" textLength="57.3" lengthAdjust="spacingAndGlyphs" >****p &lt; 0.0001</text>
<rect x="618.4" y="153.6" width="20" height="83.70" fill="#fff" stroke="#58595b" stroke-width="1.1"/>
<rect x="643.6" y="190.6" width="20" height="46.70" fill="#ffb3ba" stroke="#58595b" stroke-width="1.1"/>
<path d="M628.4,153.6 L628.4,146.8" stroke="#333" stroke-width="0.8"/>
<path d="M653.6,190.6 L653.6,189.2 M652,189.2 L655.2,189.2" stroke="#333" stroke-width="0.8"/>
<circle cx="631.4" cy="150.8" r="1.4" fill="#c4c4c4"/>
<circle cx="634.8" cy="150.9" r="1.4" fill="#c4c4c4"/>
<circle cx="625.4" cy="156.8" r="1.4" fill="#c4c4c4"/>
<circle cx="626.9" cy="158.2" r="1.4" fill="#c4c4c4"/>
<circle cx="625.4" cy="149.0" r="1.45" fill="#fff" stroke="#3d3d3d" stroke-width="0.8"/>
<circle cx="628.5" cy="147.9" r="1.45" fill="#fff" stroke="#3d3d3d" stroke-width="0.8"/>
<circle cx="628.5" cy="160.2" r="1.45" fill="#fff" stroke="#3d3d3d" stroke-width="0.8"/>
<circle cx="652.7" cy="187.3" r="1.4" fill="#c4c4c4"/>
<circle cx="650.5" cy="190.5" r="1.45" fill="#fff" stroke="#3d3d3d" stroke-width="0.8"/>
<circle cx="653.8" cy="188.6" r="1.45" fill="#fff" stroke="#3d3d3d" stroke-width="0.8"/>
<circle cx="657.2" cy="187.6" r="1.45" fill="#fff" stroke="#3d3d3d" stroke-width="0.8"/>
<circle cx="653.4" cy="195.0" r="1.45" fill="#fff" stroke="#3d3d3d" stroke-width="0.8"/>
<text x="629.00" y="229.20" font-size="9.0" fill="#231f20" text-anchor="middle" stroke="#231f20" stroke-width="0.12" textLength="10.4" lengthAdjust="spacingAndGlyphs" >(8)</text>
<text x="654.30" y="229.20" font-size="9.0" fill="#231f20" text-anchor="middle" stroke="#231f20" stroke-width="0.12" textLength="10.4" lengthAdjust="spacingAndGlyphs" >(7)</text>
</svg>
</body></html>
